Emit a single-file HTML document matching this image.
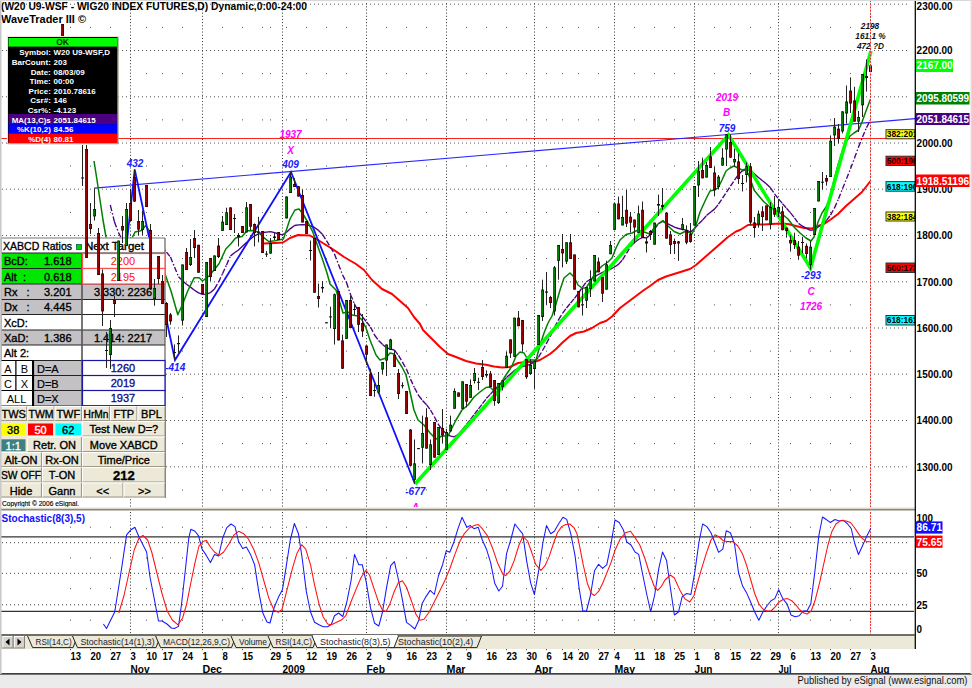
<!DOCTYPE html><html><head><meta charset="utf-8"><title>chart</title><style>html,body{margin:0;padding:0;background:#fff}svg{display:block}</style></head><body><svg width="972" height="688" viewBox="0 0 972 688" font-family="Liberation Sans, sans-serif">
<rect width="972" height="688" fill="#fff"/>
<g id="grid" stroke="#555" stroke-width="1" fill="none">
<line x1="2" x2="908" y1="466.8" y2="466.8" stroke-dasharray="1 3"/>
<line x1="2" x2="908" y1="420.5" y2="420.5" stroke-dasharray="1 3"/>
<line x1="2" x2="908" y1="374.2" y2="374.2" stroke-dasharray="1 3"/>
<line x1="2" x2="908" y1="328.0" y2="328.0" stroke-dasharray="1 3"/>
<line x1="2" x2="908" y1="281.8" y2="281.8" stroke-dasharray="1 3"/>
<line x1="2" x2="908" y1="235.5" y2="235.5" stroke-dasharray="1 3"/>
<line x1="2" x2="908" y1="189.2" y2="189.2" stroke-dasharray="1 3"/>
<line x1="2" x2="908" y1="143.0" y2="143.0" stroke-dasharray="1 3"/>
<line x1="2" x2="908" y1="96.8" y2="96.8" stroke-dasharray="1 3"/>
<line x1="2" x2="908" y1="50.5" y2="50.5" stroke-dasharray="1 3"/>
<line x1="2" x2="908" y1="4.2" y2="4.2" stroke-dasharray="1 3"/>
</g>
<g stroke="#333" stroke-width="1" stroke-dasharray="1 2.16" fill="none">
<line x1="130.5" x2="130.5" y1="0" y2="508"/>
<line x1="130.5" x2="130.5" y1="512" y2="634"/>
<line x1="202.5" x2="202.5" y1="0" y2="508"/>
<line x1="202.5" x2="202.5" y1="512" y2="634"/>
<line x1="282.5" x2="282.5" y1="0" y2="508"/>
<line x1="282.5" x2="282.5" y1="512" y2="634"/>
<line x1="366.5" x2="366.5" y1="0" y2="508"/>
<line x1="366.5" x2="366.5" y1="512" y2="634"/>
<line x1="446.5" x2="446.5" y1="0" y2="508"/>
<line x1="446.5" x2="446.5" y1="512" y2="634"/>
<line x1="534.5" x2="534.5" y1="0" y2="508"/>
<line x1="534.5" x2="534.5" y1="512" y2="634"/>
<line x1="614.5" x2="614.5" y1="0" y2="508"/>
<line x1="614.5" x2="614.5" y1="512" y2="634"/>
<line x1="694.5" x2="694.5" y1="0" y2="508"/>
<line x1="694.5" x2="694.5" y1="512" y2="634"/>
<line x1="778.5" x2="778.5" y1="0" y2="508"/>
<line x1="778.5" x2="778.5" y1="512" y2="634"/>
</g>
<g fill="#555">
<rect x="70.0" y="489.4" width="1" height="1"/>
<rect x="70.0" y="443.1" width="1" height="1"/>
<rect x="70.0" y="396.9" width="1" height="1"/>
<rect x="70.0" y="350.6" width="1" height="1"/>
<rect x="70.0" y="304.4" width="1" height="1"/>
<rect x="70.0" y="258.1" width="1" height="1"/>
<rect x="70.0" y="211.9" width="1" height="1"/>
<rect x="70.0" y="165.6" width="1" height="1"/>
<rect x="70.0" y="119.4" width="1" height="1"/>
<rect x="70.0" y="73.1" width="1" height="1"/>
<rect x="70.0" y="26.9" width="1" height="1"/>
<rect x="70.0" y="526.7" width="1" height="1"/>
<rect x="70.0" y="557.5" width="1" height="1"/>
<rect x="70.0" y="588.2" width="1" height="1"/>
<rect x="70.0" y="619.7" width="1" height="1"/>
<rect x="90.0" y="489.4" width="1" height="1"/>
<rect x="90.0" y="443.1" width="1" height="1"/>
<rect x="90.0" y="396.9" width="1" height="1"/>
<rect x="90.0" y="350.6" width="1" height="1"/>
<rect x="90.0" y="304.4" width="1" height="1"/>
<rect x="90.0" y="258.1" width="1" height="1"/>
<rect x="90.0" y="211.9" width="1" height="1"/>
<rect x="90.0" y="165.6" width="1" height="1"/>
<rect x="90.0" y="119.4" width="1" height="1"/>
<rect x="90.0" y="73.1" width="1" height="1"/>
<rect x="90.0" y="26.9" width="1" height="1"/>
<rect x="90.0" y="526.7" width="1" height="1"/>
<rect x="90.0" y="557.5" width="1" height="1"/>
<rect x="90.0" y="588.2" width="1" height="1"/>
<rect x="90.0" y="619.7" width="1" height="1"/>
<rect x="110.0" y="489.4" width="1" height="1"/>
<rect x="110.0" y="443.1" width="1" height="1"/>
<rect x="110.0" y="396.9" width="1" height="1"/>
<rect x="110.0" y="350.6" width="1" height="1"/>
<rect x="110.0" y="304.4" width="1" height="1"/>
<rect x="110.0" y="258.1" width="1" height="1"/>
<rect x="110.0" y="211.9" width="1" height="1"/>
<rect x="110.0" y="165.6" width="1" height="1"/>
<rect x="110.0" y="119.4" width="1" height="1"/>
<rect x="110.0" y="73.1" width="1" height="1"/>
<rect x="110.0" y="26.9" width="1" height="1"/>
<rect x="110.0" y="526.7" width="1" height="1"/>
<rect x="110.0" y="557.5" width="1" height="1"/>
<rect x="110.0" y="588.2" width="1" height="1"/>
<rect x="110.0" y="619.7" width="1" height="1"/>
<rect x="146.0" y="489.4" width="1" height="1"/>
<rect x="146.0" y="443.1" width="1" height="1"/>
<rect x="146.0" y="396.9" width="1" height="1"/>
<rect x="146.0" y="350.6" width="1" height="1"/>
<rect x="146.0" y="304.4" width="1" height="1"/>
<rect x="146.0" y="258.1" width="1" height="1"/>
<rect x="146.0" y="211.9" width="1" height="1"/>
<rect x="146.0" y="165.6" width="1" height="1"/>
<rect x="146.0" y="119.4" width="1" height="1"/>
<rect x="146.0" y="73.1" width="1" height="1"/>
<rect x="146.0" y="26.9" width="1" height="1"/>
<rect x="146.0" y="526.7" width="1" height="1"/>
<rect x="146.0" y="557.5" width="1" height="1"/>
<rect x="146.0" y="588.2" width="1" height="1"/>
<rect x="146.0" y="619.7" width="1" height="1"/>
<rect x="162.0" y="489.4" width="1" height="1"/>
<rect x="162.0" y="443.1" width="1" height="1"/>
<rect x="162.0" y="396.9" width="1" height="1"/>
<rect x="162.0" y="350.6" width="1" height="1"/>
<rect x="162.0" y="304.4" width="1" height="1"/>
<rect x="162.0" y="258.1" width="1" height="1"/>
<rect x="162.0" y="211.9" width="1" height="1"/>
<rect x="162.0" y="165.6" width="1" height="1"/>
<rect x="162.0" y="119.4" width="1" height="1"/>
<rect x="162.0" y="73.1" width="1" height="1"/>
<rect x="162.0" y="26.9" width="1" height="1"/>
<rect x="162.0" y="526.7" width="1" height="1"/>
<rect x="162.0" y="557.5" width="1" height="1"/>
<rect x="162.0" y="588.2" width="1" height="1"/>
<rect x="162.0" y="619.7" width="1" height="1"/>
<rect x="182.0" y="489.4" width="1" height="1"/>
<rect x="182.0" y="443.1" width="1" height="1"/>
<rect x="182.0" y="396.9" width="1" height="1"/>
<rect x="182.0" y="350.6" width="1" height="1"/>
<rect x="182.0" y="304.4" width="1" height="1"/>
<rect x="182.0" y="258.1" width="1" height="1"/>
<rect x="182.0" y="211.9" width="1" height="1"/>
<rect x="182.0" y="165.6" width="1" height="1"/>
<rect x="182.0" y="119.4" width="1" height="1"/>
<rect x="182.0" y="73.1" width="1" height="1"/>
<rect x="182.0" y="26.9" width="1" height="1"/>
<rect x="182.0" y="526.7" width="1" height="1"/>
<rect x="182.0" y="557.5" width="1" height="1"/>
<rect x="182.0" y="588.2" width="1" height="1"/>
<rect x="182.0" y="619.7" width="1" height="1"/>
<rect x="222.0" y="489.4" width="1" height="1"/>
<rect x="222.0" y="443.1" width="1" height="1"/>
<rect x="222.0" y="396.9" width="1" height="1"/>
<rect x="222.0" y="350.6" width="1" height="1"/>
<rect x="222.0" y="304.4" width="1" height="1"/>
<rect x="222.0" y="258.1" width="1" height="1"/>
<rect x="222.0" y="211.9" width="1" height="1"/>
<rect x="222.0" y="165.6" width="1" height="1"/>
<rect x="222.0" y="119.4" width="1" height="1"/>
<rect x="222.0" y="73.1" width="1" height="1"/>
<rect x="222.0" y="26.9" width="1" height="1"/>
<rect x="222.0" y="526.7" width="1" height="1"/>
<rect x="222.0" y="557.5" width="1" height="1"/>
<rect x="222.0" y="588.2" width="1" height="1"/>
<rect x="222.0" y="619.7" width="1" height="1"/>
<rect x="242.0" y="489.4" width="1" height="1"/>
<rect x="242.0" y="443.1" width="1" height="1"/>
<rect x="242.0" y="396.9" width="1" height="1"/>
<rect x="242.0" y="350.6" width="1" height="1"/>
<rect x="242.0" y="304.4" width="1" height="1"/>
<rect x="242.0" y="258.1" width="1" height="1"/>
<rect x="242.0" y="211.9" width="1" height="1"/>
<rect x="242.0" y="165.6" width="1" height="1"/>
<rect x="242.0" y="119.4" width="1" height="1"/>
<rect x="242.0" y="73.1" width="1" height="1"/>
<rect x="242.0" y="26.9" width="1" height="1"/>
<rect x="242.0" y="526.7" width="1" height="1"/>
<rect x="242.0" y="557.5" width="1" height="1"/>
<rect x="242.0" y="588.2" width="1" height="1"/>
<rect x="242.0" y="619.7" width="1" height="1"/>
<rect x="270.0" y="489.4" width="1" height="1"/>
<rect x="270.0" y="443.1" width="1" height="1"/>
<rect x="270.0" y="396.9" width="1" height="1"/>
<rect x="270.0" y="350.6" width="1" height="1"/>
<rect x="270.0" y="304.4" width="1" height="1"/>
<rect x="270.0" y="258.1" width="1" height="1"/>
<rect x="270.0" y="211.9" width="1" height="1"/>
<rect x="270.0" y="165.6" width="1" height="1"/>
<rect x="270.0" y="119.4" width="1" height="1"/>
<rect x="270.0" y="73.1" width="1" height="1"/>
<rect x="270.0" y="26.9" width="1" height="1"/>
<rect x="270.0" y="526.7" width="1" height="1"/>
<rect x="270.0" y="557.5" width="1" height="1"/>
<rect x="270.0" y="588.2" width="1" height="1"/>
<rect x="270.0" y="619.7" width="1" height="1"/>
<rect x="286.0" y="489.4" width="1" height="1"/>
<rect x="286.0" y="443.1" width="1" height="1"/>
<rect x="286.0" y="396.9" width="1" height="1"/>
<rect x="286.0" y="350.6" width="1" height="1"/>
<rect x="286.0" y="304.4" width="1" height="1"/>
<rect x="286.0" y="258.1" width="1" height="1"/>
<rect x="286.0" y="211.9" width="1" height="1"/>
<rect x="286.0" y="165.6" width="1" height="1"/>
<rect x="286.0" y="119.4" width="1" height="1"/>
<rect x="286.0" y="73.1" width="1" height="1"/>
<rect x="286.0" y="26.9" width="1" height="1"/>
<rect x="286.0" y="526.7" width="1" height="1"/>
<rect x="286.0" y="557.5" width="1" height="1"/>
<rect x="286.0" y="588.2" width="1" height="1"/>
<rect x="286.0" y="619.7" width="1" height="1"/>
<rect x="306.0" y="489.4" width="1" height="1"/>
<rect x="306.0" y="443.1" width="1" height="1"/>
<rect x="306.0" y="396.9" width="1" height="1"/>
<rect x="306.0" y="350.6" width="1" height="1"/>
<rect x="306.0" y="304.4" width="1" height="1"/>
<rect x="306.0" y="258.1" width="1" height="1"/>
<rect x="306.0" y="211.9" width="1" height="1"/>
<rect x="306.0" y="165.6" width="1" height="1"/>
<rect x="306.0" y="119.4" width="1" height="1"/>
<rect x="306.0" y="73.1" width="1" height="1"/>
<rect x="306.0" y="26.9" width="1" height="1"/>
<rect x="306.0" y="526.7" width="1" height="1"/>
<rect x="306.0" y="557.5" width="1" height="1"/>
<rect x="306.0" y="588.2" width="1" height="1"/>
<rect x="306.0" y="619.7" width="1" height="1"/>
<rect x="326.0" y="489.4" width="1" height="1"/>
<rect x="326.0" y="443.1" width="1" height="1"/>
<rect x="326.0" y="396.9" width="1" height="1"/>
<rect x="326.0" y="350.6" width="1" height="1"/>
<rect x="326.0" y="304.4" width="1" height="1"/>
<rect x="326.0" y="258.1" width="1" height="1"/>
<rect x="326.0" y="211.9" width="1" height="1"/>
<rect x="326.0" y="165.6" width="1" height="1"/>
<rect x="326.0" y="119.4" width="1" height="1"/>
<rect x="326.0" y="73.1" width="1" height="1"/>
<rect x="326.0" y="26.9" width="1" height="1"/>
<rect x="326.0" y="526.7" width="1" height="1"/>
<rect x="326.0" y="557.5" width="1" height="1"/>
<rect x="326.0" y="588.2" width="1" height="1"/>
<rect x="326.0" y="619.7" width="1" height="1"/>
<rect x="346.0" y="489.4" width="1" height="1"/>
<rect x="346.0" y="443.1" width="1" height="1"/>
<rect x="346.0" y="396.9" width="1" height="1"/>
<rect x="346.0" y="350.6" width="1" height="1"/>
<rect x="346.0" y="304.4" width="1" height="1"/>
<rect x="346.0" y="258.1" width="1" height="1"/>
<rect x="346.0" y="211.9" width="1" height="1"/>
<rect x="346.0" y="165.6" width="1" height="1"/>
<rect x="346.0" y="119.4" width="1" height="1"/>
<rect x="346.0" y="73.1" width="1" height="1"/>
<rect x="346.0" y="26.9" width="1" height="1"/>
<rect x="346.0" y="526.7" width="1" height="1"/>
<rect x="346.0" y="557.5" width="1" height="1"/>
<rect x="346.0" y="588.2" width="1" height="1"/>
<rect x="346.0" y="619.7" width="1" height="1"/>
<rect x="386.0" y="489.4" width="1" height="1"/>
<rect x="386.0" y="443.1" width="1" height="1"/>
<rect x="386.0" y="396.9" width="1" height="1"/>
<rect x="386.0" y="350.6" width="1" height="1"/>
<rect x="386.0" y="304.4" width="1" height="1"/>
<rect x="386.0" y="258.1" width="1" height="1"/>
<rect x="386.0" y="211.9" width="1" height="1"/>
<rect x="386.0" y="165.6" width="1" height="1"/>
<rect x="386.0" y="119.4" width="1" height="1"/>
<rect x="386.0" y="73.1" width="1" height="1"/>
<rect x="386.0" y="26.9" width="1" height="1"/>
<rect x="386.0" y="526.7" width="1" height="1"/>
<rect x="386.0" y="557.5" width="1" height="1"/>
<rect x="386.0" y="588.2" width="1" height="1"/>
<rect x="386.0" y="619.7" width="1" height="1"/>
<rect x="406.0" y="489.4" width="1" height="1"/>
<rect x="406.0" y="443.1" width="1" height="1"/>
<rect x="406.0" y="396.9" width="1" height="1"/>
<rect x="406.0" y="350.6" width="1" height="1"/>
<rect x="406.0" y="304.4" width="1" height="1"/>
<rect x="406.0" y="258.1" width="1" height="1"/>
<rect x="406.0" y="211.9" width="1" height="1"/>
<rect x="406.0" y="165.6" width="1" height="1"/>
<rect x="406.0" y="119.4" width="1" height="1"/>
<rect x="406.0" y="73.1" width="1" height="1"/>
<rect x="406.0" y="26.9" width="1" height="1"/>
<rect x="406.0" y="526.7" width="1" height="1"/>
<rect x="406.0" y="557.5" width="1" height="1"/>
<rect x="406.0" y="588.2" width="1" height="1"/>
<rect x="406.0" y="619.7" width="1" height="1"/>
<rect x="426.0" y="489.4" width="1" height="1"/>
<rect x="426.0" y="443.1" width="1" height="1"/>
<rect x="426.0" y="396.9" width="1" height="1"/>
<rect x="426.0" y="350.6" width="1" height="1"/>
<rect x="426.0" y="304.4" width="1" height="1"/>
<rect x="426.0" y="258.1" width="1" height="1"/>
<rect x="426.0" y="211.9" width="1" height="1"/>
<rect x="426.0" y="165.6" width="1" height="1"/>
<rect x="426.0" y="119.4" width="1" height="1"/>
<rect x="426.0" y="73.1" width="1" height="1"/>
<rect x="426.0" y="26.9" width="1" height="1"/>
<rect x="426.0" y="526.7" width="1" height="1"/>
<rect x="426.0" y="557.5" width="1" height="1"/>
<rect x="426.0" y="588.2" width="1" height="1"/>
<rect x="426.0" y="619.7" width="1" height="1"/>
<rect x="466.0" y="489.4" width="1" height="1"/>
<rect x="466.0" y="443.1" width="1" height="1"/>
<rect x="466.0" y="396.9" width="1" height="1"/>
<rect x="466.0" y="350.6" width="1" height="1"/>
<rect x="466.0" y="304.4" width="1" height="1"/>
<rect x="466.0" y="258.1" width="1" height="1"/>
<rect x="466.0" y="211.9" width="1" height="1"/>
<rect x="466.0" y="165.6" width="1" height="1"/>
<rect x="466.0" y="119.4" width="1" height="1"/>
<rect x="466.0" y="73.1" width="1" height="1"/>
<rect x="466.0" y="26.9" width="1" height="1"/>
<rect x="466.0" y="526.7" width="1" height="1"/>
<rect x="466.0" y="557.5" width="1" height="1"/>
<rect x="466.0" y="588.2" width="1" height="1"/>
<rect x="466.0" y="619.7" width="1" height="1"/>
<rect x="486.0" y="489.4" width="1" height="1"/>
<rect x="486.0" y="443.1" width="1" height="1"/>
<rect x="486.0" y="396.9" width="1" height="1"/>
<rect x="486.0" y="350.6" width="1" height="1"/>
<rect x="486.0" y="304.4" width="1" height="1"/>
<rect x="486.0" y="258.1" width="1" height="1"/>
<rect x="486.0" y="211.9" width="1" height="1"/>
<rect x="486.0" y="165.6" width="1" height="1"/>
<rect x="486.0" y="119.4" width="1" height="1"/>
<rect x="486.0" y="73.1" width="1" height="1"/>
<rect x="486.0" y="26.9" width="1" height="1"/>
<rect x="486.0" y="526.7" width="1" height="1"/>
<rect x="486.0" y="557.5" width="1" height="1"/>
<rect x="486.0" y="588.2" width="1" height="1"/>
<rect x="486.0" y="619.7" width="1" height="1"/>
<rect x="506.0" y="489.4" width="1" height="1"/>
<rect x="506.0" y="443.1" width="1" height="1"/>
<rect x="506.0" y="396.9" width="1" height="1"/>
<rect x="506.0" y="350.6" width="1" height="1"/>
<rect x="506.0" y="304.4" width="1" height="1"/>
<rect x="506.0" y="258.1" width="1" height="1"/>
<rect x="506.0" y="211.9" width="1" height="1"/>
<rect x="506.0" y="165.6" width="1" height="1"/>
<rect x="506.0" y="119.4" width="1" height="1"/>
<rect x="506.0" y="73.1" width="1" height="1"/>
<rect x="506.0" y="26.9" width="1" height="1"/>
<rect x="506.0" y="526.7" width="1" height="1"/>
<rect x="506.0" y="557.5" width="1" height="1"/>
<rect x="506.0" y="588.2" width="1" height="1"/>
<rect x="506.0" y="619.7" width="1" height="1"/>
<rect x="526.0" y="489.4" width="1" height="1"/>
<rect x="526.0" y="443.1" width="1" height="1"/>
<rect x="526.0" y="396.9" width="1" height="1"/>
<rect x="526.0" y="350.6" width="1" height="1"/>
<rect x="526.0" y="304.4" width="1" height="1"/>
<rect x="526.0" y="258.1" width="1" height="1"/>
<rect x="526.0" y="211.9" width="1" height="1"/>
<rect x="526.0" y="165.6" width="1" height="1"/>
<rect x="526.0" y="119.4" width="1" height="1"/>
<rect x="526.0" y="73.1" width="1" height="1"/>
<rect x="526.0" y="26.9" width="1" height="1"/>
<rect x="526.0" y="526.7" width="1" height="1"/>
<rect x="526.0" y="557.5" width="1" height="1"/>
<rect x="526.0" y="588.2" width="1" height="1"/>
<rect x="526.0" y="619.7" width="1" height="1"/>
<rect x="546.0" y="489.4" width="1" height="1"/>
<rect x="546.0" y="443.1" width="1" height="1"/>
<rect x="546.0" y="396.9" width="1" height="1"/>
<rect x="546.0" y="350.6" width="1" height="1"/>
<rect x="546.0" y="304.4" width="1" height="1"/>
<rect x="546.0" y="258.1" width="1" height="1"/>
<rect x="546.0" y="211.9" width="1" height="1"/>
<rect x="546.0" y="165.6" width="1" height="1"/>
<rect x="546.0" y="119.4" width="1" height="1"/>
<rect x="546.0" y="73.1" width="1" height="1"/>
<rect x="546.0" y="26.9" width="1" height="1"/>
<rect x="546.0" y="526.7" width="1" height="1"/>
<rect x="546.0" y="557.5" width="1" height="1"/>
<rect x="546.0" y="588.2" width="1" height="1"/>
<rect x="546.0" y="619.7" width="1" height="1"/>
<rect x="562.0" y="489.4" width="1" height="1"/>
<rect x="562.0" y="443.1" width="1" height="1"/>
<rect x="562.0" y="396.9" width="1" height="1"/>
<rect x="562.0" y="350.6" width="1" height="1"/>
<rect x="562.0" y="304.4" width="1" height="1"/>
<rect x="562.0" y="258.1" width="1" height="1"/>
<rect x="562.0" y="211.9" width="1" height="1"/>
<rect x="562.0" y="165.6" width="1" height="1"/>
<rect x="562.0" y="119.4" width="1" height="1"/>
<rect x="562.0" y="73.1" width="1" height="1"/>
<rect x="562.0" y="26.9" width="1" height="1"/>
<rect x="562.0" y="526.7" width="1" height="1"/>
<rect x="562.0" y="557.5" width="1" height="1"/>
<rect x="562.0" y="588.2" width="1" height="1"/>
<rect x="562.0" y="619.7" width="1" height="1"/>
<rect x="578.0" y="489.4" width="1" height="1"/>
<rect x="578.0" y="443.1" width="1" height="1"/>
<rect x="578.0" y="396.9" width="1" height="1"/>
<rect x="578.0" y="350.6" width="1" height="1"/>
<rect x="578.0" y="304.4" width="1" height="1"/>
<rect x="578.0" y="258.1" width="1" height="1"/>
<rect x="578.0" y="211.9" width="1" height="1"/>
<rect x="578.0" y="165.6" width="1" height="1"/>
<rect x="578.0" y="119.4" width="1" height="1"/>
<rect x="578.0" y="73.1" width="1" height="1"/>
<rect x="578.0" y="26.9" width="1" height="1"/>
<rect x="578.0" y="526.7" width="1" height="1"/>
<rect x="578.0" y="557.5" width="1" height="1"/>
<rect x="578.0" y="588.2" width="1" height="1"/>
<rect x="578.0" y="619.7" width="1" height="1"/>
<rect x="598.0" y="489.4" width="1" height="1"/>
<rect x="598.0" y="443.1" width="1" height="1"/>
<rect x="598.0" y="396.9" width="1" height="1"/>
<rect x="598.0" y="350.6" width="1" height="1"/>
<rect x="598.0" y="304.4" width="1" height="1"/>
<rect x="598.0" y="258.1" width="1" height="1"/>
<rect x="598.0" y="211.9" width="1" height="1"/>
<rect x="598.0" y="165.6" width="1" height="1"/>
<rect x="598.0" y="119.4" width="1" height="1"/>
<rect x="598.0" y="73.1" width="1" height="1"/>
<rect x="598.0" y="26.9" width="1" height="1"/>
<rect x="598.0" y="526.7" width="1" height="1"/>
<rect x="598.0" y="557.5" width="1" height="1"/>
<rect x="598.0" y="588.2" width="1" height="1"/>
<rect x="598.0" y="619.7" width="1" height="1"/>
<rect x="634.0" y="489.4" width="1" height="1"/>
<rect x="634.0" y="443.1" width="1" height="1"/>
<rect x="634.0" y="396.9" width="1" height="1"/>
<rect x="634.0" y="350.6" width="1" height="1"/>
<rect x="634.0" y="304.4" width="1" height="1"/>
<rect x="634.0" y="258.1" width="1" height="1"/>
<rect x="634.0" y="211.9" width="1" height="1"/>
<rect x="634.0" y="165.6" width="1" height="1"/>
<rect x="634.0" y="119.4" width="1" height="1"/>
<rect x="634.0" y="73.1" width="1" height="1"/>
<rect x="634.0" y="26.9" width="1" height="1"/>
<rect x="634.0" y="526.7" width="1" height="1"/>
<rect x="634.0" y="557.5" width="1" height="1"/>
<rect x="634.0" y="588.2" width="1" height="1"/>
<rect x="634.0" y="619.7" width="1" height="1"/>
<rect x="654.0" y="489.4" width="1" height="1"/>
<rect x="654.0" y="443.1" width="1" height="1"/>
<rect x="654.0" y="396.9" width="1" height="1"/>
<rect x="654.0" y="350.6" width="1" height="1"/>
<rect x="654.0" y="304.4" width="1" height="1"/>
<rect x="654.0" y="258.1" width="1" height="1"/>
<rect x="654.0" y="211.9" width="1" height="1"/>
<rect x="654.0" y="165.6" width="1" height="1"/>
<rect x="654.0" y="119.4" width="1" height="1"/>
<rect x="654.0" y="73.1" width="1" height="1"/>
<rect x="654.0" y="26.9" width="1" height="1"/>
<rect x="654.0" y="526.7" width="1" height="1"/>
<rect x="654.0" y="557.5" width="1" height="1"/>
<rect x="654.0" y="588.2" width="1" height="1"/>
<rect x="654.0" y="619.7" width="1" height="1"/>
<rect x="674.0" y="489.4" width="1" height="1"/>
<rect x="674.0" y="443.1" width="1" height="1"/>
<rect x="674.0" y="396.9" width="1" height="1"/>
<rect x="674.0" y="350.6" width="1" height="1"/>
<rect x="674.0" y="304.4" width="1" height="1"/>
<rect x="674.0" y="258.1" width="1" height="1"/>
<rect x="674.0" y="211.9" width="1" height="1"/>
<rect x="674.0" y="165.6" width="1" height="1"/>
<rect x="674.0" y="119.4" width="1" height="1"/>
<rect x="674.0" y="73.1" width="1" height="1"/>
<rect x="674.0" y="26.9" width="1" height="1"/>
<rect x="674.0" y="526.7" width="1" height="1"/>
<rect x="674.0" y="557.5" width="1" height="1"/>
<rect x="674.0" y="588.2" width="1" height="1"/>
<rect x="674.0" y="619.7" width="1" height="1"/>
<rect x="714.0" y="489.4" width="1" height="1"/>
<rect x="714.0" y="443.1" width="1" height="1"/>
<rect x="714.0" y="396.9" width="1" height="1"/>
<rect x="714.0" y="350.6" width="1" height="1"/>
<rect x="714.0" y="304.4" width="1" height="1"/>
<rect x="714.0" y="258.1" width="1" height="1"/>
<rect x="714.0" y="211.9" width="1" height="1"/>
<rect x="714.0" y="165.6" width="1" height="1"/>
<rect x="714.0" y="119.4" width="1" height="1"/>
<rect x="714.0" y="73.1" width="1" height="1"/>
<rect x="714.0" y="26.9" width="1" height="1"/>
<rect x="714.0" y="526.7" width="1" height="1"/>
<rect x="714.0" y="557.5" width="1" height="1"/>
<rect x="714.0" y="588.2" width="1" height="1"/>
<rect x="714.0" y="619.7" width="1" height="1"/>
<rect x="730.0" y="489.4" width="1" height="1"/>
<rect x="730.0" y="443.1" width="1" height="1"/>
<rect x="730.0" y="396.9" width="1" height="1"/>
<rect x="730.0" y="350.6" width="1" height="1"/>
<rect x="730.0" y="304.4" width="1" height="1"/>
<rect x="730.0" y="258.1" width="1" height="1"/>
<rect x="730.0" y="211.9" width="1" height="1"/>
<rect x="730.0" y="165.6" width="1" height="1"/>
<rect x="730.0" y="119.4" width="1" height="1"/>
<rect x="730.0" y="73.1" width="1" height="1"/>
<rect x="730.0" y="26.9" width="1" height="1"/>
<rect x="730.0" y="526.7" width="1" height="1"/>
<rect x="730.0" y="557.5" width="1" height="1"/>
<rect x="730.0" y="588.2" width="1" height="1"/>
<rect x="730.0" y="619.7" width="1" height="1"/>
<rect x="750.0" y="489.4" width="1" height="1"/>
<rect x="750.0" y="443.1" width="1" height="1"/>
<rect x="750.0" y="396.9" width="1" height="1"/>
<rect x="750.0" y="350.6" width="1" height="1"/>
<rect x="750.0" y="304.4" width="1" height="1"/>
<rect x="750.0" y="258.1" width="1" height="1"/>
<rect x="750.0" y="211.9" width="1" height="1"/>
<rect x="750.0" y="165.6" width="1" height="1"/>
<rect x="750.0" y="119.4" width="1" height="1"/>
<rect x="750.0" y="73.1" width="1" height="1"/>
<rect x="750.0" y="26.9" width="1" height="1"/>
<rect x="750.0" y="526.7" width="1" height="1"/>
<rect x="750.0" y="557.5" width="1" height="1"/>
<rect x="750.0" y="588.2" width="1" height="1"/>
<rect x="750.0" y="619.7" width="1" height="1"/>
<rect x="770.0" y="489.4" width="1" height="1"/>
<rect x="770.0" y="443.1" width="1" height="1"/>
<rect x="770.0" y="396.9" width="1" height="1"/>
<rect x="770.0" y="350.6" width="1" height="1"/>
<rect x="770.0" y="304.4" width="1" height="1"/>
<rect x="770.0" y="258.1" width="1" height="1"/>
<rect x="770.0" y="211.9" width="1" height="1"/>
<rect x="770.0" y="165.6" width="1" height="1"/>
<rect x="770.0" y="119.4" width="1" height="1"/>
<rect x="770.0" y="73.1" width="1" height="1"/>
<rect x="770.0" y="26.9" width="1" height="1"/>
<rect x="770.0" y="526.7" width="1" height="1"/>
<rect x="770.0" y="557.5" width="1" height="1"/>
<rect x="770.0" y="588.2" width="1" height="1"/>
<rect x="770.0" y="619.7" width="1" height="1"/>
<rect x="790.0" y="489.4" width="1" height="1"/>
<rect x="790.0" y="443.1" width="1" height="1"/>
<rect x="790.0" y="396.9" width="1" height="1"/>
<rect x="790.0" y="350.6" width="1" height="1"/>
<rect x="790.0" y="304.4" width="1" height="1"/>
<rect x="790.0" y="258.1" width="1" height="1"/>
<rect x="790.0" y="211.9" width="1" height="1"/>
<rect x="790.0" y="165.6" width="1" height="1"/>
<rect x="790.0" y="119.4" width="1" height="1"/>
<rect x="790.0" y="73.1" width="1" height="1"/>
<rect x="790.0" y="26.9" width="1" height="1"/>
<rect x="790.0" y="526.7" width="1" height="1"/>
<rect x="790.0" y="557.5" width="1" height="1"/>
<rect x="790.0" y="588.2" width="1" height="1"/>
<rect x="790.0" y="619.7" width="1" height="1"/>
<rect x="810.0" y="489.4" width="1" height="1"/>
<rect x="810.0" y="443.1" width="1" height="1"/>
<rect x="810.0" y="396.9" width="1" height="1"/>
<rect x="810.0" y="350.6" width="1" height="1"/>
<rect x="810.0" y="304.4" width="1" height="1"/>
<rect x="810.0" y="258.1" width="1" height="1"/>
<rect x="810.0" y="211.9" width="1" height="1"/>
<rect x="810.0" y="165.6" width="1" height="1"/>
<rect x="810.0" y="119.4" width="1" height="1"/>
<rect x="810.0" y="73.1" width="1" height="1"/>
<rect x="810.0" y="26.9" width="1" height="1"/>
<rect x="810.0" y="526.7" width="1" height="1"/>
<rect x="810.0" y="557.5" width="1" height="1"/>
<rect x="810.0" y="588.2" width="1" height="1"/>
<rect x="810.0" y="619.7" width="1" height="1"/>
<rect x="830.0" y="489.4" width="1" height="1"/>
<rect x="830.0" y="443.1" width="1" height="1"/>
<rect x="830.0" y="396.9" width="1" height="1"/>
<rect x="830.0" y="350.6" width="1" height="1"/>
<rect x="830.0" y="304.4" width="1" height="1"/>
<rect x="830.0" y="258.1" width="1" height="1"/>
<rect x="830.0" y="211.9" width="1" height="1"/>
<rect x="830.0" y="165.6" width="1" height="1"/>
<rect x="830.0" y="119.4" width="1" height="1"/>
<rect x="830.0" y="73.1" width="1" height="1"/>
<rect x="830.0" y="26.9" width="1" height="1"/>
<rect x="830.0" y="526.7" width="1" height="1"/>
<rect x="830.0" y="557.5" width="1" height="1"/>
<rect x="830.0" y="588.2" width="1" height="1"/>
<rect x="830.0" y="619.7" width="1" height="1"/>
<rect x="850.0" y="489.4" width="1" height="1"/>
<rect x="850.0" y="443.1" width="1" height="1"/>
<rect x="850.0" y="396.9" width="1" height="1"/>
<rect x="850.0" y="350.6" width="1" height="1"/>
<rect x="850.0" y="304.4" width="1" height="1"/>
<rect x="850.0" y="258.1" width="1" height="1"/>
<rect x="850.0" y="211.9" width="1" height="1"/>
<rect x="850.0" y="165.6" width="1" height="1"/>
<rect x="850.0" y="119.4" width="1" height="1"/>
<rect x="850.0" y="73.1" width="1" height="1"/>
<rect x="850.0" y="26.9" width="1" height="1"/>
<rect x="850.0" y="526.7" width="1" height="1"/>
<rect x="850.0" y="557.5" width="1" height="1"/>
<rect x="850.0" y="588.2" width="1" height="1"/>
<rect x="850.0" y="619.7" width="1" height="1"/>
<rect x="262.0" y="489.4" width="1" height="1"/>
<rect x="262.0" y="443.1" width="1" height="1"/>
<rect x="262.0" y="396.9" width="1" height="1"/>
<rect x="262.0" y="350.6" width="1" height="1"/>
<rect x="262.0" y="304.4" width="1" height="1"/>
<rect x="262.0" y="258.1" width="1" height="1"/>
<rect x="262.0" y="211.9" width="1" height="1"/>
<rect x="262.0" y="165.6" width="1" height="1"/>
<rect x="262.0" y="119.4" width="1" height="1"/>
<rect x="262.0" y="73.1" width="1" height="1"/>
<rect x="262.0" y="26.9" width="1" height="1"/>
<rect x="262.0" y="526.7" width="1" height="1"/>
<rect x="262.0" y="557.5" width="1" height="1"/>
<rect x="262.0" y="588.2" width="1" height="1"/>
<rect x="262.0" y="619.7" width="1" height="1"/>
</g>
<line x1="0" x2="915" y1="138.5" y2="138.5" stroke="#ff2020" stroke-width="1.2"/>
<line x1="94.2" y1="188.2" x2="915" y2="118.7" stroke="#2828ff" stroke-width="1.2"/>
<polyline points="263.6,243.6 275.0,243.0 283.0,242.5 290.0,238.0 298.0,235.0 310.0,235.5 318.0,240.0 326.0,245.0 334.0,250.0 344.0,257.0 356.0,264.0 364.0,270.0 372.0,280.0 382.0,289.0 392.0,294.0 400.0,301.0 408.0,308.0 414.0,317.0 420.0,324.0 423.0,330.0 430.0,337.0 440.0,347.0 448.0,354.0 456.0,357.0 466.0,361.0 476.0,363.5 486.0,364.7 494.0,366.5 502.0,367.5 510.0,367.0 518.0,363.0 526.0,362.0 534.0,362.0 540.0,360.0 550.0,354.0 556.0,349.0 562.0,343.0 570.0,336.0 576.0,333.0 584.0,331.5 592.0,328.0 600.0,323.0 606.0,321.0 612.0,316.5 620.0,308.0 628.0,302.0 636.0,296.0 644.0,290.0 650.0,286.0 658.0,280.0 666.0,276.5 674.0,274.0 682.0,271.5 690.0,269.0 696.0,265.0 704.0,258.0 712.0,251.0 720.0,244.0 728.0,237.0 736.0,231.5 740.0,230.0 748.0,225.0 756.0,224.5 764.0,224.5 772.0,224.0 780.0,223.5 788.0,224.0 796.0,226.0 804.0,228.0 812.0,228.5 818.0,226.0 824.0,224.0 830.0,220.0 838.0,214.0 846.0,206.0 854.0,199.0 862.0,192.0 870.5,181.0" fill="none" stroke="#ff0000" stroke-width="2" stroke-linejoin="round"/>
<path d="M110.3 205.0L110.5 205.8M110.5 205.8L114.5 222.0M114.5 222.0L118.5 232.6M118.5 232.6L122.5 240.4M122.5 240.4L124.0 244.0" fill="none" stroke="#4b0082" stroke-width="1.35" stroke-dasharray="5.5 2 1.5 2" stroke-linecap="butt"/>
<path d="M160.0 243.0L162.5 246.6M162.5 246.6L166.5 252.1M166.5 252.1L170.5 257.1M170.5 257.1L174.5 267.0M174.5 267.0L178.5 276.7M178.5 276.7L182.5 280.7M182.5 280.7L186.5 284.2M186.5 284.2L190.5 287.1M190.5 287.1L194.5 290.2M194.5 290.2L198.5 292.9M198.5 292.9L202.5 294.4M202.5 294.4L206.5 294.1M206.5 294.1L210.5 292.6M210.5 292.6L214.5 288.9M214.5 288.9L218.5 282.2M218.5 282.2L222.5 273.7M222.5 273.7L226.5 264.9M226.5 264.9L230.5 255.9M230.5 255.9L234.5 252.8M234.5 252.8L238.5 250.0M238.5 250.0L242.5 246.3M242.5 246.3L246.5 242.5M246.5 242.5L250.5 239.1M250.5 239.1L254.5 235.8M254.5 235.8L258.5 233.9M258.5 233.9L262.5 232.5M262.5 232.5L266.5 232.1M266.5 232.1L270.5 231.7M270.5 231.7L274.5 232.6M274.5 232.6L278.5 234.0M278.5 234.0L282.5 234.8M282.5 234.8L286.5 232.3M286.5 232.3L290.5 228.6M290.5 228.6L294.5 225.5M294.5 225.5L298.5 224.8M298.5 224.8L302.5 224.7M302.5 224.7L306.5 224.9M306.5 224.9L310.5 225.9M310.5 225.9L314.5 227.5M314.5 227.5L318.5 230.4M318.5 230.4L322.5 234.4M322.5 234.4L326.5 240.7M326.5 240.7L330.5 247.3M330.5 247.3L334.5 254.0M334.5 254.0L338.5 264.4M338.5 264.4L342.5 274.7M342.5 274.7L346.5 282.5M346.5 282.5L350.5 294.5M350.5 294.5L354.5 304.0M354.5 304.0L358.5 311.7M358.5 311.7L362.5 317.0M362.5 317.0L366.5 321.9M366.5 321.9L370.5 327.0M370.5 327.0L374.5 335.0M374.5 335.0L378.5 340.5M378.5 340.5L382.5 344.4M382.5 344.4L386.5 347.8M386.5 347.8L390.5 349.0M390.5 349.0L394.5 350.2M394.5 350.2L398.5 355.4M398.5 355.4L402.5 362.2M402.5 362.2L406.5 369.2M406.5 369.2L410.5 379.1M410.5 379.1L414.5 387.8M414.5 387.8L418.5 395.4M418.5 395.4L422.5 400.5M422.5 400.5L426.5 404.7M426.5 404.7L430.5 410.0M430.5 410.0L434.5 417.0M434.5 417.0L438.5 424.7M438.5 424.7L442.5 430.0M442.5 430.0L446.5 433.7M446.5 433.7L450.5 436.1M450.5 436.1L454.5 436.8M454.5 436.8L458.5 434.1M458.5 434.1L462.5 429.4M462.5 429.4L466.5 424.4M466.5 424.4L470.5 419.4M470.5 419.4L474.5 414.1M474.5 414.1L478.5 408.9M478.5 408.9L482.5 403.7M482.5 403.7L486.5 398.4M486.5 398.4L490.5 394.1M490.5 394.1L494.5 389.6M494.5 389.6L498.5 385.5M498.5 385.5L502.5 381.5M502.5 381.5L506.5 377.6M506.5 377.6L510.5 373.9M510.5 373.9L514.5 370.4M514.5 370.4L518.5 368.1M518.5 368.1L522.5 366.6M522.5 366.6L526.5 365.4M526.5 365.4L530.5 364.4M530.5 364.4L534.5 361.5M534.5 361.5L538.5 357.2M538.5 357.2L542.5 350.5M542.5 350.5L546.5 343.4M546.5 343.4L550.5 335.9M550.5 335.9L554.5 327.2M554.5 327.2L558.5 319.8M558.5 319.8L562.5 313.3M562.5 313.3L566.5 308.0M566.5 308.0L570.5 303.1M570.5 303.1L574.5 298.3M574.5 298.3L578.5 293.0M578.5 293.0L582.5 287.2M582.5 287.2L586.5 281.7M586.5 281.7L590.5 279.2M590.5 279.2L594.5 276.7M594.5 276.7L598.5 274.5M598.5 274.5L602.5 272.3M602.5 272.3L606.5 270.8M606.5 270.8L610.5 269.2M610.5 269.2L614.5 267.0M614.5 267.0L618.5 264.4M618.5 264.4L622.5 259.8M622.5 259.8L626.5 253.4M626.5 253.4L630.5 246.5M630.5 246.5L634.5 242.5M634.5 242.5L638.5 239.5M638.5 239.5L642.5 237.5M642.5 237.5L646.5 237.9M646.5 237.9L650.5 234.7M650.5 234.7L654.5 229.2M654.5 229.2L658.5 223.7M658.5 223.7L662.5 221.3M662.5 221.3L666.5 223.1M666.5 223.1L670.5 225.2M670.5 225.2L674.5 227.2M674.5 227.2L678.5 228.5M678.5 228.5L682.5 229.4M682.5 229.4L686.5 230.2M686.5 230.2L690.5 232.2M690.5 232.2L694.5 228.6M694.5 228.6L698.5 224.1M698.5 224.1L702.5 220.1M702.5 220.1L706.5 215.6M706.5 215.6L710.5 212.2M710.5 212.2L714.5 209.1M714.5 209.1L718.5 204.2M718.5 204.2L722.5 198.2M722.5 198.2L726.5 192.2M726.5 192.2L730.5 186.2M730.5 186.2L734.5 180.2M734.5 180.2L738.5 174.5M738.5 174.5L742.5 170.8M742.5 170.8L746.5 169.5M746.5 169.5L750.5 170.9M750.5 170.9L754.5 174.1M754.5 174.1L758.5 177.4M758.5 177.4L762.5 180.8M762.5 180.8L766.5 184.1M766.5 184.1L770.5 187.8M770.5 187.8L774.5 193.8M774.5 193.8L778.5 198.9M778.5 198.9L782.5 203.6M782.5 203.6L786.5 208.2M786.5 208.2L790.5 212.9M790.5 212.9L794.5 217.8M794.5 217.8L798.5 223.4M798.5 223.4L802.5 226.2M802.5 226.2L806.5 228.3M806.5 228.3L810.5 230.4M810.5 230.4L814.5 229.6M814.5 229.6L818.5 226.7M818.5 226.7L822.5 224.1M822.5 224.1L826.5 220.4M826.5 220.4L830.5 215.1M830.5 215.1L834.5 207.9M834.5 207.9L838.5 198.8M838.5 198.8L842.5 188.8M842.5 188.8L846.5 178.8M846.5 178.8L850.5 168.8M850.5 168.8L854.5 158.1M854.5 158.1L858.5 147.1M858.5 147.1L862.5 137.1M862.5 137.1L866.5 127.6M866.5 127.6L870.5 120.0" fill="none" stroke="#4b0082" stroke-width="1.35" stroke-dasharray="5.5 2 1.5 2" stroke-linecap="butt"/>
<polyline points="94.0,161.0 97.0,180.0 100.0,200.0 103.0,220.0 106.0,237.0 108.0,250.0" fill="none" stroke="#008000" stroke-width="1.5" stroke-linejoin="round"/>
<polyline points="129.0,250.0 132.5,237.0 135.0,232.0 141.6,230.4 145.7,225.5 149.0,230.4 152.0,245.0" fill="none" stroke="#008000" stroke-width="1.5" stroke-linejoin="round"/>
<polyline points="160.0,262.0 164.6,272.7 171.0,291.0 177.8,314.7 182.7,304.0 187.7,291.0 194.3,277.7 199.2,277.7 202.5,281.0 209.0,276.0 214.0,270.0 219.0,263.7 225.8,249.0 230.7,244.0 235.6,238.0 242.0,236.5 247.0,230.8 253.7,230.5 258.7,232.4 263.6,237.4 268.6,241.5 275.0,240.7 283.4,239.0 286.7,229.0 290.0,219.0 294.9,210.0 299.0,209.0 303.0,214.0 308.0,222.5 313.0,232.4 318.0,247.0 322.9,260.4 327.0,273.0 330.0,284.0 336.0,290.0 340.0,303.0 343.0,313.0 348.0,312.0 352.0,315.0 358.0,316.0 362.0,320.0 366.0,328.0 370.0,340.0 372.0,345.0 376.0,355.0 380.0,360.0 386.0,358.0 390.0,353.0 394.0,354.0 398.0,361.0 402.0,367.0 406.0,375.0 410.0,392.0 414.0,410.0 418.0,420.0 424.0,425.0 430.0,433.0 436.0,439.0 442.0,436.0 448.0,436.0 452.0,428.0 456.0,420.0 462.0,410.0 468.0,405.0 474.0,397.0 480.0,392.0 486.0,387.5 490.0,387.0 494.0,391.0 500.0,385.0 504.0,378.0 508.0,372.0 512.0,366.0 516.0,356.0 520.0,352.0 524.0,353.0 528.0,360.0 532.0,360.0 536.0,360.0 540.0,345.0 544.0,333.0 548.0,323.0 552.0,316.0 556.0,304.0 560.0,290.0 564.0,278.0 570.0,273.0 574.0,277.0 578.0,285.0 582.0,288.0 586.0,288.0 590.0,282.0 596.0,272.0 602.0,266.0 608.0,262.0 612.0,258.0 616.0,248.0 620.0,240.0 626.0,234.5 632.0,233.0 638.0,230.0 644.0,232.0 650.0,234.0 654.0,228.0 658.0,224.0 663.0,220.5 668.0,226.0 674.0,231.5 680.0,234.0 686.0,231.0 692.0,234.0 696.0,225.0 700.0,212.0 706.0,199.0 710.0,191.0 714.0,190.0 718.0,188.0 722.0,180.0 726.0,171.0 730.0,168.0 734.0,166.0 738.0,168.0 742.0,170.0 746.0,169.0 750.0,178.0 754.0,190.0 758.0,195.0 764.0,202.0 770.0,207.0 776.0,211.0 782.0,214.0 788.0,219.0 794.0,227.0 800.0,233.0 806.0,238.0 811.0,241.0 814.0,237.0 818.0,222.0 822.0,213.0 826.0,207.0 830.0,198.0 834.0,180.0 838.0,165.0 842.0,152.0 846.0,142.0 850.0,136.0 854.0,133.0 858.6,130.0 862.0,122.0 866.0,111.0 870.5,99.0" fill="none" stroke="#008000" stroke-width="1.5" stroke-linejoin="round"/>
<polyline points="126.5,246 134.7,169.5 175,360 291,172 415,484" fill="none" stroke="#1010ff" stroke-width="1.8" stroke-linejoin="miter"/>
<polyline points="415,484 728.5,135 810.5,268 871,51" fill="none" stroke="#00ff00" stroke-width="3.6" stroke-linejoin="miter"/>
<g id="panel">
<rect x="0" y="237.5" width="165.5" height="260.5" fill="#fff"/>
<rect x="2" y="253" width="80" height="31" fill="#00e800"/>
<rect x="2" y="284" width="163" height="15.5" fill="#c3c1c4"/>
<rect x="2" y="299.5" width="80" height="15" fill="#c3c1c4"/>
<rect x="2" y="330" width="163" height="15" fill="#c3c1c4"/>
<rect x="34" y="360.5" width="48" height="45.5" fill="#c3c1c4"/>
<line x1="0" x2="165" y1="253.0" y2="253.0" stroke="#222" stroke-width="1"/>
<line x1="0" x2="165" y1="268.5" y2="268.5" stroke="#222" stroke-width="1"/>
<line x1="0" x2="165" y1="284.0" y2="284.0" stroke="#222" stroke-width="1"/>
<line x1="0" x2="165" y1="299.5" y2="299.5" stroke="#222" stroke-width="1"/>
<line x1="0" x2="165" y1="314.5" y2="314.5" stroke="#222" stroke-width="1"/>
<line x1="0" x2="165" y1="330.0" y2="330.0" stroke="#222" stroke-width="1"/>
<line x1="0" x2="165" y1="345.0" y2="345.0" stroke="#222" stroke-width="1"/>
<line x1="0" x2="165" y1="360.5" y2="360.5" stroke="#222" stroke-width="1"/>
<line x1="0" x2="165" y1="375.5" y2="375.5" stroke="#222" stroke-width="1"/>
<line x1="0" x2="165" y1="390.5" y2="390.5" stroke="#222" stroke-width="1"/>
<line x1="0" x2="165" y1="406.0" y2="406.0" stroke="#222" stroke-width="1"/>
<line x1="0" x2="165" y1="238" y2="238" stroke="#777" stroke-width="1"/>
<line x1="165" x2="165" y1="238" y2="406" stroke="#444" stroke-width="1"/>
<line x1="1" x2="1" y1="238" y2="406" stroke="#888" stroke-width="1.5"/>
<line x1="82" x2="82" y1="253" y2="406" stroke="#555" stroke-width="1.6"/>
<rect x="82.5" y="253.5" width="82.5" height="15" fill="#fff" stroke="#ff5050" stroke-width="1.2"/>
<rect x="82.5" y="268.5" width="82.5" height="15.5" fill="#fff" stroke="#ff5050" stroke-width="1.2"/>
<rect x="82.5" y="360.5" width="82.5" height="15.2" fill="#fff" stroke="#1818a0" stroke-width="1.2"/>
<rect x="82.5" y="375.5" width="82.5" height="15.2" fill="#fff" stroke="#1818a0" stroke-width="1.2"/>
<rect x="82.5" y="390.5" width="82.5" height="15.2" fill="#fff" stroke="#1818a0" stroke-width="1.2"/>
<rect x="0.5" y="360.5" width="15.5" height="15" fill="#fff" stroke="#000" stroke-width="1"/>
<rect x="16" y="360.5" width="16.5" height="15" fill="#fff" stroke="#000" stroke-width="1"/>
<rect x="0.5" y="375.5" width="15.5" height="15" fill="#fff" stroke="#000" stroke-width="1"/>
<rect x="16" y="375.5" width="16.5" height="15" fill="#fff" stroke="#000" stroke-width="1"/>
<rect x="0.5" y="390.5" width="32" height="15.5" fill="#fff" stroke="#000" stroke-width="1"/>
<line x1="33.2" x2="33.2" y1="360" y2="406" stroke="#000" stroke-width="1.8"/>
<text x="3.0" y="250.0" font-size="11" fill="#000" text-anchor="start" font-weight="normal" font-style="normal" textLength="69.0" lengthAdjust="spacingAndGlyphs" stroke="#000" stroke-width="0.35">XABCD Ratios</text>
<rect x="76.5" y="244.5" width="5" height="5" fill="#00d000" stroke="#064" stroke-width="0.8"/>
<text x="85.0" y="250.0" font-size="11" fill="#000" text-anchor="start" font-weight="normal" font-style="normal" textLength="59.0" lengthAdjust="spacingAndGlyphs" stroke="#000" stroke-width="0.35">Next Target</text>
<text x="4" y="265.0" font-size="11" xml:space="preserve" stroke="#000" stroke-width="0.35">BcD:</text>
<text x="44.0" y="265.0" font-size="11" fill="#000" text-anchor="start" font-weight="normal" font-style="normal" stroke="#000" stroke-width="0.35">1.618</text>
<text x="4" y="280.5" font-size="11" xml:space="preserve" stroke="#000" stroke-width="0.35">Alt  :</text>
<text x="44.0" y="280.5" font-size="11" fill="#000" text-anchor="start" font-weight="normal" font-style="normal" stroke="#000" stroke-width="0.35">0.618</text>
<text x="4" y="296.0" font-size="11" xml:space="preserve" stroke="#000" stroke-width="0.35">Rx   :</text>
<text x="44.0" y="296.0" font-size="11" fill="#000" text-anchor="start" font-weight="normal" font-style="normal" stroke="#000" stroke-width="0.35">3.201</text>
<text x="4" y="311.0" font-size="11" xml:space="preserve" stroke="#000" stroke-width="0.35">Dx   :</text>
<text x="44.0" y="311.0" font-size="11" fill="#000" text-anchor="start" font-weight="normal" font-style="normal" stroke="#000" stroke-width="0.35">4.445</text>
<text x="4" y="326.5" font-size="11" xml:space="preserve" stroke="#000" stroke-width="0.35">XcD:</text>
<text x="4" y="341.5" font-size="11" xml:space="preserve" stroke="#000" stroke-width="0.35">XaD:</text>
<text x="44.0" y="341.5" font-size="11" fill="#000" text-anchor="start" font-weight="normal" font-style="normal" stroke="#000" stroke-width="0.35">1.386</text>
<text x="4" y="357.0" font-size="11" xml:space="preserve" stroke="#000" stroke-width="0.35">Alt 2:</text>
<text x="123.0" y="265.0" font-size="11" fill="#ff1010" text-anchor="middle" font-weight="normal" font-style="normal" >2200</text>
<text x="123.0" y="280.5" font-size="11" fill="#ff1010" text-anchor="middle" font-weight="normal" font-style="normal" >2195</text>
<text x="123.0" y="296.0" font-size="11" fill="#000" text-anchor="middle" font-weight="normal" font-style="normal" stroke="#000" stroke-width="0.35">3.330: 2236</text>
<text x="123.0" y="341.5" font-size="11" fill="#000" text-anchor="middle" font-weight="normal" font-style="normal" stroke="#000" stroke-width="0.35">1.414: 2217</text>
<text x="123.0" y="372.0" font-size="11" fill="#10108a" text-anchor="middle" font-weight="normal" font-style="normal" stroke="#10108a" stroke-width="0.35">1260</text>
<text x="123.0" y="387.0" font-size="11" fill="#10108a" text-anchor="middle" font-weight="normal" font-style="normal" stroke="#10108a" stroke-width="0.35">2019</text>
<text x="123.0" y="402.3" font-size="11" fill="#10108a" text-anchor="middle" font-weight="normal" font-style="normal" stroke="#10108a" stroke-width="0.35">1937</text>
<text x="8.0" y="372.5" font-size="11" fill="#000" text-anchor="middle" font-weight="normal" font-style="normal" >A</text>
<text x="24.3" y="372.5" font-size="11" fill="#000" text-anchor="middle" font-weight="normal" font-style="normal" >B</text>
<text x="8.0" y="387.5" font-size="11" fill="#000" text-anchor="middle" font-weight="normal" font-style="normal" >C</text>
<text x="24.3" y="387.5" font-size="11" fill="#000" text-anchor="middle" font-weight="normal" font-style="normal" >X</text>
<text x="16.5" y="403.0" font-size="11" fill="#000" text-anchor="middle" font-weight="normal" font-style="normal" >ALL</text>
<text x="37.0" y="372.5" font-size="11" fill="#000" text-anchor="start" font-weight="normal" font-style="normal" stroke="#000" stroke-width="0.2">D=A</text>
<text x="37.0" y="387.5" font-size="11" fill="#000" text-anchor="start" font-weight="normal" font-style="normal" stroke="#000" stroke-width="0.2">D=B</text>
<text x="37.0" y="403.0" font-size="11" fill="#000" text-anchor="start" font-weight="normal" font-style="normal" stroke="#000" stroke-width="0.2">D=X</text>
<rect x="0" y="406" width="165.5" height="92" fill="#ece9d8"/>
<rect x="0.0" y="406.0" width="27.3" height="15.0" fill="#ece9d8"/>
<path d="M0.5 420.5V406.5H26.8" fill="none" stroke="#fff" stroke-width="1"/>
<path d="M0.5 420.5H26.8V406.5" fill="none" stroke="#9d9a8c" stroke-width="1.2"/>
<text x="13.7" y="418.2" font-size="11" fill="#000" text-anchor="middle" font-weight="normal" font-style="normal" stroke="#000" stroke-width="0.35">TWS</text>
<rect x="27.3" y="406.0" width="27.3" height="15.0" fill="#ece9d8"/>
<path d="M27.8 420.5V406.5H54.1" fill="none" stroke="#fff" stroke-width="1"/>
<path d="M27.8 420.5H54.1V406.5" fill="none" stroke="#9d9a8c" stroke-width="1.2"/>
<text x="41.0" y="418.2" font-size="11" fill="#000" text-anchor="middle" font-weight="normal" font-style="normal" textLength="25.0" lengthAdjust="spacingAndGlyphs" stroke="#000" stroke-width="0.35">TWM</text>
<rect x="54.6" y="406.0" width="27.4" height="15.0" fill="#ece9d8"/>
<path d="M55.1 420.5V406.5H81.5" fill="none" stroke="#fff" stroke-width="1"/>
<path d="M55.1 420.5H81.5V406.5" fill="none" stroke="#9d9a8c" stroke-width="1.2"/>
<text x="68.3" y="418.2" font-size="11" fill="#000" text-anchor="middle" font-weight="normal" font-style="normal" stroke="#000" stroke-width="0.35">TWF</text>
<rect x="82.0" y="406.0" width="28.0" height="15.0" fill="#ece9d8"/>
<path d="M82.5 420.5V406.5H109.5" fill="none" stroke="#fff" stroke-width="1"/>
<path d="M82.5 420.5H109.5V406.5" fill="none" stroke="#9d9a8c" stroke-width="1.2"/>
<text x="96.0" y="418.2" font-size="11" fill="#000" text-anchor="middle" font-weight="normal" font-style="normal" textLength="25.0" lengthAdjust="spacingAndGlyphs" stroke="#000" stroke-width="0.35">HrMn</text>
<rect x="110.0" y="406.0" width="27.5" height="15.0" fill="#ece9d8"/>
<path d="M110.5 420.5V406.5H137.0" fill="none" stroke="#fff" stroke-width="1"/>
<path d="M110.5 420.5H137.0V406.5" fill="none" stroke="#9d9a8c" stroke-width="1.2"/>
<text x="123.8" y="418.2" font-size="11" fill="#000" text-anchor="middle" font-weight="normal" font-style="normal" stroke="#000" stroke-width="0.35">FTP</text>
<rect x="137.5" y="406.0" width="28.0" height="15.0" fill="#ece9d8"/>
<path d="M138.0 420.5V406.5H165.0" fill="none" stroke="#fff" stroke-width="1"/>
<path d="M138.0 420.5H165.0V406.5" fill="none" stroke="#9d9a8c" stroke-width="1.2"/>
<text x="151.5" y="418.2" font-size="11" fill="#000" text-anchor="middle" font-weight="normal" font-style="normal" stroke="#000" stroke-width="0.35">BPL</text>
<rect x="1.0" y="423.5" width="24.5" height="11.8" fill="#ffff00"/>
<text x="13.2" y="434.1" font-size="11" fill="#000" text-anchor="middle" font-weight="normal" font-style="normal" stroke="#000" stroke-width="0.35">38</text>
<rect x="28.0" y="423.5" width="25.0" height="11.8" fill="#ff0000"/>
<text x="40.5" y="434.1" font-size="11" fill="#fff" text-anchor="middle" font-weight="normal" font-style="normal" stroke="#fff" stroke-width="0.35">50</text>
<rect x="55.5" y="423.5" width="25.5" height="11.8" fill="#00ffff"/>
<text x="68.2" y="434.1" font-size="11" fill="#000" text-anchor="middle" font-weight="normal" font-style="normal" stroke="#000" stroke-width="0.35">62</text>
<rect x="82.0" y="421.0" width="83.5" height="15.5" fill="#ece9d8"/>
<path d="M82.5 436.0V421.5H165.0" fill="none" stroke="#fff" stroke-width="1"/>
<path d="M82.5 436.0H165.0V421.5" fill="none" stroke="#9d9a8c" stroke-width="1.2"/>
<text x="123.8" y="433.4" font-size="11" fill="#000" text-anchor="middle" font-weight="normal" font-style="normal" stroke="#000" stroke-width="0.35">Test New D=?</text>
<rect x="1.0" y="439.3" width="24.5" height="12.0" fill="#408080"/>
<text x="13.2" y="450.0" font-size="11" fill="#fff" text-anchor="middle" font-weight="normal" font-style="normal" stroke="#fff" stroke-width="0.35">1:1</text>
<rect x="27.0" y="436.5" width="55.0" height="15.5" fill="#ece9d8"/>
<path d="M27.5 451.5V437.0H81.5" fill="none" stroke="#fff" stroke-width="1"/>
<path d="M27.5 451.5H81.5V437.0" fill="none" stroke="#9d9a8c" stroke-width="1.2"/>
<text x="54.5" y="448.9" font-size="11" fill="#000" text-anchor="middle" font-weight="normal" font-style="normal" stroke="#000" stroke-width="0.35">Retr. ON</text>
<rect x="82.0" y="436.5" width="83.5" height="15.5" fill="#ece9d8"/>
<path d="M82.5 451.5V437.0H165.0" fill="none" stroke="#fff" stroke-width="1"/>
<path d="M82.5 451.5H165.0V437.0" fill="none" stroke="#9d9a8c" stroke-width="1.2"/>
<text x="123.8" y="448.9" font-size="11" fill="#000" text-anchor="middle" font-weight="normal" font-style="normal" stroke="#000" stroke-width="0.35">Move XABCD</text>
<rect x="0.0" y="452.0" width="42.0" height="15.0" fill="#ece9d8"/>
<path d="M0.5 466.5V452.5H41.5" fill="none" stroke="#fff" stroke-width="1"/>
<path d="M0.5 466.5H41.5V452.5" fill="none" stroke="#9d9a8c" stroke-width="1.2"/>
<text x="21.0" y="464.2" font-size="11" fill="#000" text-anchor="middle" font-weight="normal" font-style="normal" stroke="#000" stroke-width="0.35">Alt-ON</text>
<rect x="42.0" y="452.0" width="40.0" height="15.0" fill="#ece9d8"/>
<path d="M42.5 466.5V452.5H81.5" fill="none" stroke="#fff" stroke-width="1"/>
<path d="M42.5 466.5H81.5V452.5" fill="none" stroke="#9d9a8c" stroke-width="1.2"/>
<text x="62.0" y="464.2" font-size="11" fill="#000" text-anchor="middle" font-weight="normal" font-style="normal" stroke="#000" stroke-width="0.35">Rx-ON</text>
<rect x="82.0" y="452.0" width="83.5" height="15.0" fill="#ece9d8"/>
<path d="M82.5 466.5V452.5H165.0" fill="none" stroke="#fff" stroke-width="1"/>
<path d="M82.5 466.5H165.0V452.5" fill="none" stroke="#9d9a8c" stroke-width="1.2"/>
<text x="123.8" y="464.2" font-size="11" fill="#000" text-anchor="middle" font-weight="normal" font-style="normal" stroke="#000" stroke-width="0.35">Time/Price</text>
<rect x="0.0" y="467.0" width="42.0" height="15.5" fill="#ece9d8"/>
<path d="M0.5 482.0V467.5H41.5" fill="none" stroke="#fff" stroke-width="1"/>
<path d="M0.5 482.0H41.5V467.5" fill="none" stroke="#9d9a8c" stroke-width="1.2"/>
<text x="21.0" y="479.4" font-size="11" fill="#000" text-anchor="middle" font-weight="normal" font-style="normal" textLength="40.0" lengthAdjust="spacingAndGlyphs" stroke="#000" stroke-width="0.35">SW OFF</text>
<rect x="42.0" y="467.0" width="40.0" height="15.5" fill="#ece9d8"/>
<path d="M42.5 482.0V467.5H81.5" fill="none" stroke="#fff" stroke-width="1"/>
<path d="M42.5 482.0H81.5V467.5" fill="none" stroke="#9d9a8c" stroke-width="1.2"/>
<text x="62.0" y="479.4" font-size="11" fill="#000" text-anchor="middle" font-weight="normal" font-style="normal" stroke="#000" stroke-width="0.35">T-ON</text>
<rect x="82.0" y="467.0" width="83.5" height="15.5" fill="#ece9d8"/>
<path d="M82.5 482.0V467.5H165.0" fill="none" stroke="#fff" stroke-width="1"/>
<path d="M82.5 482.0H165.0V467.5" fill="none" stroke="#9d9a8c" stroke-width="1.2"/>
<text x="123.8" y="480.1" font-size="13" fill="#000" text-anchor="middle" font-weight="bold" font-style="normal" stroke="#000" stroke-width="0.35">212</text>
<rect x="0.0" y="482.5" width="42.0" height="15.0" fill="#ece9d8"/>
<path d="M0.5 497.0V483.0H41.5" fill="none" stroke="#fff" stroke-width="1"/>
<path d="M0.5 497.0H41.5V483.0" fill="none" stroke="#9d9a8c" stroke-width="1.2"/>
<text x="21.0" y="494.7" font-size="11" fill="#000" text-anchor="middle" font-weight="normal" font-style="normal" stroke="#000" stroke-width="0.35">Hide</text>
<rect x="42.0" y="482.5" width="40.0" height="15.0" fill="#ece9d8"/>
<path d="M42.5 497.0V483.0H81.5" fill="none" stroke="#fff" stroke-width="1"/>
<path d="M42.5 497.0H81.5V483.0" fill="none" stroke="#9d9a8c" stroke-width="1.2"/>
<text x="62.0" y="494.7" font-size="11" fill="#000" text-anchor="middle" font-weight="normal" font-style="normal" stroke="#000" stroke-width="0.35">Gann</text>
<rect x="82.0" y="482.5" width="41.5" height="15.0" fill="#ece9d8"/>
<path d="M82.5 497.0V483.0H123.0" fill="none" stroke="#fff" stroke-width="1"/>
<path d="M82.5 497.0H123.0V483.0" fill="none" stroke="#9d9a8c" stroke-width="1.2"/>
<text x="102.8" y="494.7" font-size="11" fill="#000" text-anchor="middle" font-weight="normal" font-style="normal" stroke="#000" stroke-width="0.35">&lt;&lt;</text>
<rect x="123.5" y="482.5" width="42.0" height="15.0" fill="#ece9d8"/>
<path d="M124.0 497.0V483.0H165.0" fill="none" stroke="#fff" stroke-width="1"/>
<path d="M124.0 497.0H165.0V483.0" fill="none" stroke="#9d9a8c" stroke-width="1.2"/>
<text x="144.5" y="494.7" font-size="11" fill="#000" text-anchor="middle" font-weight="normal" font-style="normal" stroke="#000" stroke-width="0.35">&gt;&gt;</text>
<line x1="165.5" x2="165.5" y1="406" y2="498" stroke="#8a877a" stroke-width="1"/>
<rect x="0" y="498" width="82" height="10" fill="#fff"/>
<text x="2.0" y="506.0" font-size="7" fill="#000" text-anchor="start" font-weight="normal" font-style="normal" textLength="77.0" lengthAdjust="spacingAndGlyphs" stroke="#000" stroke-width="0.15">Copyright © 2006 eSignal.</text>
</g>
<g id="candles">
<rect x="62.0" y="24.0" width="1" height="36.0" fill="#222"/>
<rect x="61.1" y="24.0" width="2.8" height="36.0" fill="#000"/>
<rect x="61.3" y="24.7" width="1.5" height="34.6" fill="#c00000"/>
<rect x="82.0" y="145.0" width="1" height="41.0" fill="#222"/>
<rect x="81.0" y="177.5" width="3" height="1.0" fill="#111"/>
<rect x="86.0" y="145.0" width="1" height="113.0" fill="#222"/>
<rect x="85.1" y="149.0" width="2.8" height="109.0" fill="#000"/>
<rect x="85.3" y="149.7" width="1.5" height="107.6" fill="#c00000"/>
<rect x="90.0" y="203.0" width="1" height="31.0" fill="#222"/>
<rect x="89.1" y="224.0" width="2.8" height="5.0" fill="#000"/>
<rect x="89.3" y="224.7" width="1.5" height="3.6" fill="#c00000"/>
<rect x="94.0" y="188.4" width="1" height="32.1" fill="#222"/>
<rect x="93.1" y="209.0" width="2.8" height="7.4" fill="#000"/>
<rect x="93.3" y="209.7" width="1.5" height="6.0" fill="#00a000"/>
<rect x="98.0" y="228.0" width="1" height="47.0" fill="#222"/>
<rect x="97.1" y="233.0" width="2.8" height="42.0" fill="#000"/>
<rect x="97.3" y="233.7" width="1.5" height="40.6" fill="#c00000"/>
<rect x="102.0" y="269.4" width="1" height="56.6" fill="#222"/>
<rect x="101.1" y="273.5" width="2.8" height="37.9" fill="#000"/>
<rect x="101.3" y="274.2" width="1.5" height="36.5" fill="#c00000"/>
<rect x="106.0" y="332.0" width="1" height="36.0" fill="#222"/>
<rect x="105.0" y="350.0" width="3" height="1.0" fill="#111"/>
<rect x="110.0" y="320.0" width="1" height="49.0" fill="#222"/>
<rect x="109.1" y="328.0" width="2.8" height="27.0" fill="#000"/>
<rect x="109.3" y="328.7" width="1.5" height="25.6" fill="#00a000"/>
<rect x="114.0" y="296.0" width="1" height="21.0" fill="#222"/>
<rect x="113.1" y="300.0" width="2.8" height="4.0" fill="#000"/>
<rect x="113.3" y="300.7" width="1.5" height="2.6" fill="#c00000"/>
<rect x="118.0" y="240.6" width="1" height="40.4" fill="#222"/>
<rect x="117.1" y="240.6" width="2.8" height="40.4" fill="#000"/>
<rect x="117.3" y="241.3" width="1.5" height="39.0" fill="#00a000"/>
<rect x="122.0" y="216.0" width="1" height="27.0" fill="#222"/>
<rect x="121.1" y="226.0" width="2.8" height="4.5" fill="#000"/>
<rect x="121.3" y="226.7" width="1.5" height="3.1" fill="#c00000"/>
<rect x="126.0" y="203.0" width="1" height="43.0" fill="#222"/>
<rect x="125.1" y="209.0" width="2.8" height="37.0" fill="#000"/>
<rect x="125.3" y="209.7" width="1.5" height="35.6" fill="#00a000"/>
<rect x="130.0" y="189.0" width="1" height="32.0" fill="#222"/>
<rect x="129.1" y="203.0" width="2.8" height="18.0" fill="#000"/>
<rect x="129.3" y="203.7" width="1.5" height="16.6" fill="#c00000"/>
<rect x="134.0" y="169.5" width="1" height="32.1" fill="#222"/>
<rect x="133.1" y="177.0" width="2.8" height="24.6" fill="#000"/>
<rect x="133.3" y="177.7" width="1.5" height="23.2" fill="#c00000"/>
<rect x="138.0" y="210.0" width="1" height="25.0" fill="#222"/>
<rect x="137.1" y="221.0" width="2.8" height="8.6" fill="#000"/>
<rect x="137.3" y="221.7" width="1.5" height="7.2" fill="#c00000"/>
<rect x="142.0" y="210.6" width="1" height="24.4" fill="#222"/>
<rect x="141.1" y="221.0" width="2.8" height="9.0" fill="#000"/>
<rect x="141.3" y="221.7" width="1.5" height="7.6" fill="#00a000"/>
<rect x="146.0" y="185.0" width="1" height="22.0" fill="#222"/>
<rect x="145.1" y="185.0" width="2.8" height="22.0" fill="#000"/>
<rect x="145.3" y="185.7" width="1.5" height="20.6" fill="#c00000"/>
<rect x="150.0" y="224.0" width="1" height="65.0" fill="#222"/>
<rect x="149.1" y="230.0" width="2.8" height="59.0" fill="#000"/>
<rect x="149.3" y="230.7" width="1.5" height="57.6" fill="#c00000"/>
<rect x="154.0" y="279.0" width="1" height="26.7" fill="#222"/>
<rect x="153.1" y="288.0" width="2.8" height="11.0" fill="#000"/>
<rect x="153.3" y="288.7" width="1.5" height="9.6" fill="#00a000"/>
<rect x="158.0" y="256.0" width="1" height="28.0" fill="#222"/>
<rect x="157.1" y="256.0" width="2.8" height="23.0" fill="#000"/>
<rect x="157.3" y="256.7" width="1.5" height="21.6" fill="#c00000"/>
<rect x="162.0" y="275.0" width="1" height="29.0" fill="#222"/>
<rect x="161.1" y="281.0" width="2.8" height="23.0" fill="#000"/>
<rect x="161.3" y="281.7" width="1.5" height="21.6" fill="#c00000"/>
<rect x="166.0" y="302.0" width="1" height="35.0" fill="#222"/>
<rect x="165.1" y="303.0" width="2.8" height="22.0" fill="#000"/>
<rect x="165.3" y="303.7" width="1.5" height="20.6" fill="#c00000"/>
<rect x="170.0" y="313.0" width="1" height="11.7" fill="#222"/>
<rect x="169.1" y="314.5" width="2.8" height="6.9" fill="#000"/>
<rect x="169.3" y="315.2" width="1.5" height="5.5" fill="#c00000"/>
<rect x="174.0" y="344.4" width="1" height="15.6" fill="#222"/>
<rect x="173.0" y="352.0" width="3" height="1.0" fill="#111"/>
<rect x="178.0" y="335.4" width="1" height="17.3" fill="#222"/>
<rect x="177.0" y="343.0" width="3" height="1.2" fill="#111"/>
<rect x="182.0" y="264.5" width="1" height="61.0" fill="#222"/>
<rect x="181.1" y="264.5" width="2.8" height="56.1" fill="#000"/>
<rect x="181.3" y="265.2" width="1.5" height="54.7" fill="#00a000"/>
<rect x="186.0" y="248.0" width="1" height="22.0" fill="#222"/>
<rect x="185.1" y="252.0" width="2.8" height="18.0" fill="#000"/>
<rect x="185.3" y="252.7" width="1.5" height="16.6" fill="#c00000"/>
<rect x="190.0" y="239.0" width="1" height="27.0" fill="#222"/>
<rect x="189.1" y="257.0" width="2.8" height="8.0" fill="#000"/>
<rect x="189.3" y="257.7" width="1.5" height="6.6" fill="#00a000"/>
<rect x="194.0" y="230.0" width="1" height="28.0" fill="#222"/>
<rect x="193.1" y="238.0" width="2.8" height="10.0" fill="#000"/>
<rect x="193.3" y="238.7" width="1.5" height="8.6" fill="#c00000"/>
<rect x="198.0" y="244.8" width="1" height="27.9" fill="#222"/>
<rect x="197.1" y="244.8" width="2.8" height="27.9" fill="#000"/>
<rect x="197.3" y="245.4" width="1.5" height="26.5" fill="#c00000"/>
<rect x="202.0" y="284.0" width="1" height="10.0" fill="#222"/>
<rect x="201.1" y="284.0" width="2.8" height="10.0" fill="#000"/>
<rect x="201.3" y="284.7" width="1.5" height="8.6" fill="#c00000"/>
<rect x="206.0" y="262.0" width="1" height="55.0" fill="#222"/>
<rect x="205.1" y="262.0" width="2.8" height="55.0" fill="#000"/>
<rect x="205.3" y="262.7" width="1.5" height="53.6" fill="#00a000"/>
<rect x="210.0" y="258.0" width="1" height="23.0" fill="#222"/>
<rect x="209.1" y="258.0" width="2.8" height="19.0" fill="#000"/>
<rect x="209.3" y="258.7" width="1.5" height="17.6" fill="#c00000"/>
<rect x="214.0" y="255.5" width="1" height="15.5" fill="#222"/>
<rect x="213.1" y="255.5" width="2.8" height="15.5" fill="#000"/>
<rect x="213.3" y="256.2" width="1.5" height="14.1" fill="#00a000"/>
<rect x="218.0" y="238.0" width="1" height="20.0" fill="#222"/>
<rect x="217.1" y="245.6" width="2.8" height="11.4" fill="#000"/>
<rect x="217.3" y="246.3" width="1.5" height="10.0" fill="#c00000"/>
<rect x="222.0" y="216.0" width="1" height="14.8" fill="#222"/>
<rect x="221.1" y="221.7" width="2.8" height="9.1" fill="#000"/>
<rect x="221.3" y="222.4" width="1.5" height="7.7" fill="#00a000"/>
<rect x="226.0" y="207.7" width="1" height="17.3" fill="#222"/>
<rect x="225.1" y="212.3" width="2.8" height="12.7" fill="#000"/>
<rect x="225.3" y="213.0" width="1.5" height="11.3" fill="#00a000"/>
<rect x="230.0" y="207.4" width="1" height="22.6" fill="#222"/>
<rect x="229.1" y="207.4" width="2.8" height="22.6" fill="#000"/>
<rect x="229.3" y="208.1" width="1.5" height="21.2" fill="#c00000"/>
<rect x="234.0" y="214.0" width="1" height="19.0" fill="#222"/>
<rect x="233.0" y="218.0" width="3" height="1.0" fill="#111"/>
<rect x="238.0" y="233.0" width="1" height="13.4" fill="#222"/>
<rect x="237.0" y="235.0" width="3" height="2.0" fill="#111"/>
<rect x="242.0" y="226.0" width="1" height="7.0" fill="#222"/>
<rect x="241.1" y="226.0" width="2.8" height="7.0" fill="#000"/>
<rect x="241.3" y="226.7" width="1.5" height="5.6" fill="#c00000"/>
<rect x="246.0" y="202.0" width="1" height="30.4" fill="#222"/>
<rect x="245.1" y="207.4" width="2.8" height="25.0" fill="#000"/>
<rect x="245.3" y="208.1" width="1.5" height="23.6" fill="#00a000"/>
<rect x="250.0" y="204.0" width="1" height="26.0" fill="#222"/>
<rect x="249.1" y="204.0" width="2.8" height="22.7" fill="#000"/>
<rect x="249.3" y="204.7" width="1.5" height="21.3" fill="#c00000"/>
<rect x="254.0" y="223.4" width="1" height="23.0" fill="#222"/>
<rect x="253.1" y="224.0" width="2.8" height="9.0" fill="#000"/>
<rect x="253.3" y="224.7" width="1.5" height="7.6" fill="#c00000"/>
<rect x="258.0" y="216.8" width="1" height="25.5" fill="#222"/>
<rect x="257.0" y="231.5" width="3" height="1.2" fill="#111"/>
<rect x="262.0" y="231.0" width="1" height="22.0" fill="#222"/>
<rect x="261.1" y="231.0" width="2.8" height="22.0" fill="#000"/>
<rect x="261.3" y="231.7" width="1.5" height="20.6" fill="#c00000"/>
<rect x="266.0" y="251.0" width="1" height="6.0" fill="#222"/>
<rect x="265.0" y="253.6" width="3" height="1.0" fill="#111"/>
<rect x="270.0" y="238.0" width="1" height="15.8" fill="#222"/>
<rect x="269.1" y="243.0" width="2.8" height="10.5" fill="#000"/>
<rect x="269.3" y="243.7" width="1.5" height="9.1" fill="#00a000"/>
<rect x="274.0" y="233.0" width="1" height="7.0" fill="#222"/>
<rect x="273.1" y="236.5" width="2.8" height="1.5" fill="#000"/>
<rect x="278.0" y="232.0" width="1" height="8.0" fill="#222"/>
<rect x="277.1" y="232.0" width="2.8" height="8.0" fill="#000"/>
<rect x="277.3" y="232.7" width="1.5" height="6.6" fill="#c00000"/>
<rect x="286.0" y="196.5" width="1" height="21.9" fill="#222"/>
<rect x="285.1" y="196.5" width="2.8" height="21.9" fill="#000"/>
<rect x="285.3" y="197.2" width="1.5" height="20.5" fill="#00a000"/>
<rect x="290.0" y="172.3" width="1" height="20.7" fill="#222"/>
<rect x="289.1" y="176.5" width="2.8" height="16.5" fill="#000"/>
<rect x="289.3" y="177.2" width="1.5" height="15.1" fill="#00a000"/>
<rect x="294.0" y="178.0" width="1" height="9.0" fill="#222"/>
<rect x="293.1" y="184.0" width="2.8" height="3.0" fill="#000"/>
<rect x="293.3" y="184.7" width="1.5" height="1.6" fill="#c00000"/>
<rect x="298.0" y="186.3" width="1" height="10.2" fill="#222"/>
<rect x="297.1" y="186.3" width="2.8" height="10.2" fill="#000"/>
<rect x="297.3" y="187.0" width="1.5" height="8.8" fill="#c00000"/>
<rect x="302.0" y="189.6" width="1" height="32.9" fill="#222"/>
<rect x="301.1" y="195.0" width="2.8" height="27.5" fill="#000"/>
<rect x="301.3" y="195.7" width="1.5" height="26.1" fill="#c00000"/>
<rect x="306.0" y="221.0" width="1" height="13.0" fill="#222"/>
<rect x="305.1" y="221.0" width="2.8" height="13.0" fill="#000"/>
<rect x="305.3" y="221.7" width="1.5" height="11.6" fill="#c00000"/>
<rect x="310.0" y="240.6" width="1" height="19.9" fill="#222"/>
<rect x="309.0" y="250.0" width="3" height="1.0" fill="#111"/>
<rect x="314.0" y="238.0" width="1" height="54.7" fill="#222"/>
<rect x="313.1" y="238.0" width="2.8" height="54.7" fill="#000"/>
<rect x="313.3" y="238.7" width="1.5" height="53.3" fill="#c00000"/>
<rect x="318.0" y="283.6" width="1" height="23.9" fill="#222"/>
<rect x="317.1" y="296.0" width="2.8" height="3.0" fill="#000"/>
<rect x="317.3" y="296.7" width="1.5" height="1.6" fill="#c00000"/>
<rect x="322.0" y="281.0" width="1" height="11.7" fill="#222"/>
<rect x="321.0" y="287.0" width="3" height="1.4" fill="#111"/>
<rect x="326.0" y="322.3" width="1" height="1.0" fill="#222"/>
<rect x="325.0" y="322.3" width="3" height="1.0" fill="#111"/>
<rect x="330.0" y="306.7" width="1" height="21.3" fill="#222"/>
<rect x="329.0" y="316.4" width="3" height="1.0" fill="#111"/>
<rect x="334.0" y="293.5" width="1" height="51.0" fill="#222"/>
<rect x="333.1" y="294.3" width="2.8" height="34.7" fill="#000"/>
<rect x="333.3" y="295.0" width="1.5" height="33.3" fill="#00a000"/>
<rect x="338.0" y="291.0" width="1" height="49.4" fill="#222"/>
<rect x="337.1" y="291.0" width="2.8" height="49.4" fill="#000"/>
<rect x="337.3" y="291.7" width="1.5" height="48.0" fill="#c00000"/>
<rect x="342.0" y="334.7" width="1" height="34.0" fill="#222"/>
<rect x="341.1" y="340.4" width="2.8" height="28.3" fill="#000"/>
<rect x="341.3" y="341.1" width="1.5" height="26.9" fill="#c00000"/>
<rect x="346.0" y="300.0" width="1" height="38.8" fill="#222"/>
<rect x="345.1" y="300.0" width="2.8" height="38.8" fill="#000"/>
<rect x="345.3" y="300.7" width="1.5" height="37.4" fill="#00a000"/>
<rect x="350.0" y="296.0" width="1" height="32.0" fill="#222"/>
<rect x="349.1" y="300.0" width="2.8" height="28.0" fill="#000"/>
<rect x="349.3" y="300.7" width="1.5" height="26.6" fill="#c00000"/>
<rect x="354.0" y="303.4" width="1" height="11.6" fill="#222"/>
<rect x="353.0" y="309.0" width="3" height="1.0" fill="#111"/>
<rect x="358.0" y="307.0" width="1" height="25.0" fill="#222"/>
<rect x="357.1" y="307.0" width="2.8" height="17.8" fill="#000"/>
<rect x="357.3" y="307.7" width="1.5" height="16.4" fill="#c00000"/>
<rect x="362.0" y="314.0" width="1" height="23.0" fill="#222"/>
<rect x="361.1" y="323.0" width="2.8" height="8.4" fill="#000"/>
<rect x="361.3" y="323.7" width="1.5" height="7.0" fill="#c00000"/>
<rect x="366.0" y="345.3" width="1" height="19.7" fill="#222"/>
<rect x="365.1" y="345.6" width="2.8" height="9.1" fill="#000"/>
<rect x="365.3" y="346.3" width="1.5" height="7.7" fill="#c00000"/>
<rect x="370.0" y="368.7" width="1" height="27.3" fill="#222"/>
<rect x="369.1" y="373.6" width="2.8" height="22.4" fill="#000"/>
<rect x="369.3" y="374.3" width="1.5" height="21.0" fill="#c00000"/>
<rect x="374.0" y="383.5" width="1" height="13.2" fill="#222"/>
<rect x="373.0" y="390.0" width="3" height="1.0" fill="#111"/>
<rect x="378.0" y="372.0" width="1" height="21.4" fill="#222"/>
<rect x="377.1" y="385.0" width="2.8" height="7.5" fill="#000"/>
<rect x="377.3" y="385.7" width="1.5" height="6.1" fill="#00a000"/>
<rect x="382.0" y="362.0" width="1" height="12.4" fill="#222"/>
<rect x="381.1" y="362.0" width="2.8" height="7.5" fill="#000"/>
<rect x="381.3" y="362.7" width="1.5" height="6.1" fill="#00a000"/>
<rect x="386.0" y="344.5" width="1" height="31.5" fill="#222"/>
<rect x="385.1" y="344.5" width="2.8" height="16.0" fill="#000"/>
<rect x="385.3" y="345.2" width="1.5" height="14.6" fill="#00a000"/>
<rect x="390.0" y="338.8" width="1" height="11.0" fill="#222"/>
<rect x="389.1" y="339.5" width="2.8" height="10.3" fill="#000"/>
<rect x="389.3" y="340.2" width="1.5" height="8.9" fill="#00a000"/>
<rect x="394.0" y="350.6" width="1" height="16.4" fill="#222"/>
<rect x="393.1" y="354.7" width="2.8" height="12.3" fill="#000"/>
<rect x="393.3" y="355.4" width="1.5" height="10.9" fill="#c00000"/>
<rect x="398.0" y="369.0" width="1" height="30.0" fill="#222"/>
<rect x="397.1" y="373.0" width="2.8" height="21.0" fill="#000"/>
<rect x="397.3" y="373.7" width="1.5" height="19.6" fill="#c00000"/>
<rect x="402.0" y="382.3" width="1" height="6.1" fill="#222"/>
<rect x="401.0" y="385.2" width="3" height="1.0" fill="#111"/>
<rect x="406.0" y="391.0" width="1" height="23.0" fill="#222"/>
<rect x="405.1" y="391.0" width="2.8" height="23.0" fill="#000"/>
<rect x="405.3" y="391.7" width="1.5" height="21.6" fill="#c00000"/>
<rect x="410.0" y="429.0" width="1" height="36.8" fill="#222"/>
<rect x="409.1" y="429.6" width="2.8" height="36.2" fill="#000"/>
<rect x="409.3" y="430.3" width="1.5" height="34.8" fill="#c00000"/>
<rect x="414.0" y="439.5" width="1" height="44.5" fill="#222"/>
<rect x="413.1" y="463.4" width="2.8" height="16.4" fill="#000"/>
<rect x="413.3" y="464.1" width="1.5" height="15.0" fill="#00a000"/>
<rect x="418.0" y="448.1" width="1" height="1.0" fill="#222"/>
<rect x="417.0" y="448.1" width="3" height="1.0" fill="#111"/>
<rect x="422.0" y="415.6" width="1" height="47.8" fill="#222"/>
<rect x="421.1" y="433.0" width="2.8" height="14.7" fill="#000"/>
<rect x="421.3" y="433.7" width="1.5" height="13.3" fill="#00a000"/>
<rect x="426.0" y="408.2" width="1" height="40.4" fill="#222"/>
<rect x="425.1" y="417.3" width="2.8" height="31.3" fill="#000"/>
<rect x="425.3" y="418.0" width="1.5" height="29.9" fill="#c00000"/>
<rect x="430.0" y="439.5" width="1" height="30.5" fill="#222"/>
<rect x="429.1" y="444.4" width="2.8" height="20.6" fill="#000"/>
<rect x="429.3" y="445.1" width="1.5" height="19.2" fill="#00a000"/>
<rect x="434.0" y="422.0" width="1" height="35.6" fill="#222"/>
<rect x="433.1" y="422.0" width="2.8" height="35.6" fill="#000"/>
<rect x="433.3" y="422.7" width="1.5" height="34.2" fill="#c00000"/>
<rect x="438.0" y="427.0" width="1" height="28.0" fill="#222"/>
<rect x="437.1" y="427.0" width="2.8" height="28.0" fill="#000"/>
<rect x="437.3" y="427.7" width="1.5" height="26.6" fill="#00a000"/>
<rect x="442.0" y="409.0" width="1" height="34.6" fill="#222"/>
<rect x="441.1" y="428.0" width="2.8" height="7.4" fill="#000"/>
<rect x="441.3" y="428.7" width="1.5" height="6.0" fill="#c00000"/>
<rect x="446.0" y="428.8" width="1" height="21.2" fill="#222"/>
<rect x="445.1" y="432.0" width="2.8" height="18.0" fill="#000"/>
<rect x="445.3" y="432.7" width="1.5" height="16.6" fill="#00a000"/>
<rect x="450.0" y="415.6" width="1" height="16.4" fill="#222"/>
<rect x="449.1" y="424.7" width="2.8" height="6.6" fill="#000"/>
<rect x="449.3" y="425.4" width="1.5" height="5.2" fill="#00a000"/>
<rect x="454.0" y="388.4" width="1" height="20.3" fill="#222"/>
<rect x="453.1" y="391.0" width="2.8" height="17.7" fill="#000"/>
<rect x="453.3" y="391.7" width="1.5" height="16.3" fill="#00a000"/>
<rect x="458.0" y="392.5" width="1" height="4.2" fill="#222"/>
<rect x="457.1" y="392.5" width="2.8" height="4.2" fill="#000"/>
<rect x="457.3" y="393.2" width="1.5" height="2.8" fill="#c00000"/>
<rect x="462.0" y="381.4" width="1" height="27.3" fill="#222"/>
<rect x="461.1" y="381.4" width="2.8" height="27.3" fill="#000"/>
<rect x="461.3" y="382.1" width="1.5" height="25.9" fill="#00a000"/>
<rect x="466.0" y="384.0" width="1" height="23.4" fill="#222"/>
<rect x="465.1" y="384.0" width="2.8" height="17.6" fill="#000"/>
<rect x="465.3" y="384.7" width="1.5" height="16.2" fill="#c00000"/>
<rect x="470.0" y="379.4" width="1" height="18.4" fill="#222"/>
<rect x="469.1" y="385.0" width="2.8" height="12.8" fill="#000"/>
<rect x="469.3" y="385.7" width="1.5" height="11.4" fill="#00a000"/>
<rect x="474.0" y="368.0" width="1" height="15.5" fill="#222"/>
<rect x="473.1" y="373.0" width="2.8" height="8.0" fill="#000"/>
<rect x="473.3" y="373.7" width="1.5" height="6.6" fill="#00a000"/>
<rect x="478.0" y="377.7" width="1" height="12.3" fill="#222"/>
<rect x="477.0" y="381.8" width="3" height="1.0" fill="#111"/>
<rect x="482.0" y="360.0" width="1" height="20.0" fill="#222"/>
<rect x="481.1" y="367.0" width="2.8" height="10.0" fill="#000"/>
<rect x="481.3" y="367.7" width="1.5" height="8.6" fill="#c00000"/>
<rect x="486.0" y="370.3" width="1" height="7.4" fill="#222"/>
<rect x="485.0" y="374.0" width="3" height="1.5" fill="#111"/>
<rect x="490.0" y="371.0" width="1" height="16.0" fill="#222"/>
<rect x="489.1" y="373.5" width="2.8" height="13.5" fill="#000"/>
<rect x="489.3" y="374.2" width="1.5" height="12.1" fill="#c00000"/>
<rect x="494.0" y="380.0" width="1" height="25.8" fill="#222"/>
<rect x="493.1" y="380.0" width="2.8" height="21.0" fill="#000"/>
<rect x="493.3" y="380.7" width="1.5" height="19.6" fill="#c00000"/>
<rect x="498.0" y="383.0" width="1" height="21.0" fill="#222"/>
<rect x="497.1" y="383.0" width="2.8" height="20.0" fill="#000"/>
<rect x="497.3" y="383.7" width="1.5" height="18.6" fill="#00a000"/>
<rect x="502.0" y="380.5" width="1" height="9.9" fill="#222"/>
<rect x="501.1" y="380.5" width="2.8" height="6.5" fill="#000"/>
<rect x="501.3" y="381.2" width="1.5" height="5.1" fill="#00a000"/>
<rect x="506.0" y="351.7" width="1" height="16.3" fill="#222"/>
<rect x="505.1" y="355.8" width="2.8" height="12.2" fill="#000"/>
<rect x="505.3" y="356.5" width="1.5" height="10.8" fill="#00a000"/>
<rect x="510.0" y="339.4" width="1" height="18.6" fill="#222"/>
<rect x="509.1" y="339.4" width="2.8" height="14.0" fill="#000"/>
<rect x="509.3" y="340.1" width="1.5" height="12.6" fill="#c00000"/>
<rect x="514.0" y="317.7" width="1" height="39.0" fill="#222"/>
<rect x="513.1" y="317.7" width="2.8" height="39.0" fill="#000"/>
<rect x="513.3" y="318.4" width="1.5" height="37.6" fill="#00a000"/>
<rect x="518.0" y="311.0" width="1" height="15.2" fill="#222"/>
<rect x="517.1" y="317.7" width="2.8" height="8.5" fill="#000"/>
<rect x="517.3" y="318.4" width="1.5" height="7.1" fill="#c00000"/>
<rect x="522.0" y="320.0" width="1" height="31.7" fill="#222"/>
<rect x="521.1" y="320.0" width="2.8" height="24.3" fill="#000"/>
<rect x="521.3" y="320.7" width="1.5" height="22.9" fill="#c00000"/>
<rect x="526.0" y="359.0" width="1" height="20.0" fill="#222"/>
<rect x="525.1" y="359.0" width="2.8" height="18.2" fill="#000"/>
<rect x="525.3" y="359.7" width="1.5" height="16.8" fill="#c00000"/>
<rect x="530.0" y="359.0" width="1" height="15.8" fill="#222"/>
<rect x="529.1" y="365.0" width="2.8" height="9.0" fill="#000"/>
<rect x="529.3" y="365.7" width="1.5" height="7.6" fill="#00a000"/>
<rect x="534.0" y="360.8" width="1" height="28.0" fill="#222"/>
<rect x="533.1" y="360.8" width="2.8" height="8.2" fill="#000"/>
<rect x="533.3" y="361.5" width="1.5" height="6.8" fill="#00a000"/>
<rect x="538.0" y="315.0" width="1" height="30.0" fill="#222"/>
<rect x="537.1" y="315.0" width="2.8" height="30.0" fill="#000"/>
<rect x="537.3" y="315.7" width="1.5" height="28.6" fill="#00a000"/>
<rect x="542.0" y="279.7" width="1" height="41.3" fill="#222"/>
<rect x="541.1" y="289.6" width="2.8" height="27.4" fill="#000"/>
<rect x="541.3" y="290.3" width="1.5" height="26.0" fill="#00a000"/>
<rect x="546.0" y="272.0" width="1" height="32.8" fill="#222"/>
<rect x="545.0" y="291.5" width="3" height="1.2" fill="#111"/>
<rect x="550.0" y="295.8" width="1" height="12.2" fill="#222"/>
<rect x="549.1" y="297.0" width="2.8" height="6.0" fill="#000"/>
<rect x="549.3" y="297.7" width="1.5" height="4.6" fill="#c00000"/>
<rect x="554.0" y="266.0" width="1" height="49.5" fill="#222"/>
<rect x="553.1" y="267.4" width="2.8" height="44.0" fill="#000"/>
<rect x="553.3" y="268.1" width="1.5" height="42.6" fill="#00a000"/>
<rect x="558.0" y="245.0" width="1" height="34.7" fill="#222"/>
<rect x="557.1" y="245.0" width="2.8" height="15.8" fill="#000"/>
<rect x="557.3" y="245.7" width="1.5" height="14.4" fill="#00a000"/>
<rect x="562.0" y="234.0" width="1" height="33.4" fill="#222"/>
<rect x="561.1" y="249.0" width="2.8" height="4.4" fill="#000"/>
<rect x="561.3" y="249.7" width="1.5" height="3.0" fill="#c00000"/>
<rect x="566.0" y="242.3" width="1" height="21.7" fill="#222"/>
<rect x="565.1" y="242.3" width="2.8" height="19.3" fill="#000"/>
<rect x="565.3" y="243.0" width="1.5" height="17.9" fill="#00a000"/>
<rect x="570.0" y="234.0" width="1" height="25.0" fill="#222"/>
<rect x="569.1" y="242.3" width="2.8" height="16.7" fill="#000"/>
<rect x="569.3" y="243.0" width="1.5" height="15.3" fill="#c00000"/>
<rect x="574.0" y="254.5" width="1" height="35.1" fill="#222"/>
<rect x="573.1" y="254.5" width="2.8" height="35.1" fill="#000"/>
<rect x="573.3" y="255.2" width="1.5" height="33.7" fill="#c00000"/>
<rect x="578.0" y="291.0" width="1" height="16.3" fill="#222"/>
<rect x="577.1" y="291.0" width="2.8" height="16.3" fill="#000"/>
<rect x="577.3" y="291.7" width="1.5" height="14.9" fill="#c00000"/>
<rect x="582.0" y="288.0" width="1" height="27.5" fill="#222"/>
<rect x="581.0" y="304.3" width="3" height="1.1" fill="#111"/>
<rect x="586.0" y="287.0" width="1" height="21.0" fill="#222"/>
<rect x="585.1" y="287.0" width="2.8" height="13.7" fill="#000"/>
<rect x="585.3" y="287.7" width="1.5" height="12.3" fill="#00a000"/>
<rect x="590.0" y="270.3" width="1" height="26.7" fill="#222"/>
<rect x="589.1" y="279.0" width="2.8" height="9.8" fill="#000"/>
<rect x="589.3" y="279.7" width="1.5" height="8.4" fill="#00a000"/>
<rect x="594.0" y="255.0" width="1" height="26.4" fill="#222"/>
<rect x="593.1" y="255.0" width="2.8" height="26.4" fill="#000"/>
<rect x="593.3" y="255.7" width="1.5" height="25.0" fill="#00a000"/>
<rect x="598.0" y="257.5" width="1" height="14.8" fill="#222"/>
<rect x="597.1" y="261.6" width="2.8" height="10.7" fill="#000"/>
<rect x="597.3" y="262.3" width="1.5" height="9.3" fill="#c00000"/>
<rect x="602.0" y="277.0" width="1" height="25.0" fill="#222"/>
<rect x="601.1" y="277.0" width="2.8" height="16.7" fill="#000"/>
<rect x="601.3" y="277.7" width="1.5" height="15.3" fill="#c00000"/>
<rect x="606.0" y="260.8" width="1" height="28.8" fill="#222"/>
<rect x="605.1" y="264.4" width="2.8" height="25.2" fill="#000"/>
<rect x="605.3" y="265.1" width="1.5" height="23.8" fill="#00a000"/>
<rect x="610.0" y="241.0" width="1" height="13.2" fill="#222"/>
<rect x="609.1" y="245.0" width="2.8" height="9.2" fill="#000"/>
<rect x="609.3" y="245.7" width="1.5" height="7.8" fill="#00a000"/>
<rect x="614.0" y="203.5" width="1" height="26.3" fill="#222"/>
<rect x="613.1" y="203.5" width="2.8" height="26.3" fill="#000"/>
<rect x="613.3" y="204.2" width="1.5" height="24.9" fill="#00a000"/>
<rect x="618.0" y="196.6" width="1" height="22.7" fill="#222"/>
<rect x="617.1" y="203.5" width="2.8" height="15.8" fill="#000"/>
<rect x="617.3" y="204.2" width="1.5" height="14.4" fill="#c00000"/>
<rect x="622.0" y="195.8" width="1" height="29.6" fill="#222"/>
<rect x="621.1" y="217.0" width="2.8" height="8.4" fill="#000"/>
<rect x="621.3" y="217.7" width="1.5" height="7.0" fill="#00a000"/>
<rect x="626.0" y="190.0" width="1" height="37.0" fill="#222"/>
<rect x="625.1" y="209.8" width="2.8" height="13.9" fill="#000"/>
<rect x="625.3" y="210.5" width="1.5" height="12.5" fill="#c00000"/>
<rect x="630.0" y="212.0" width="1" height="20.5" fill="#222"/>
<rect x="629.1" y="216.7" width="2.8" height="5.9" fill="#000"/>
<rect x="629.3" y="217.4" width="1.5" height="4.5" fill="#c00000"/>
<rect x="634.0" y="219.6" width="1" height="23.9" fill="#222"/>
<rect x="633.1" y="219.6" width="2.8" height="7.9" fill="#000"/>
<rect x="633.3" y="220.3" width="1.5" height="6.5" fill="#c00000"/>
<rect x="638.0" y="205.6" width="1" height="27.2" fill="#222"/>
<rect x="637.1" y="213.5" width="2.8" height="19.3" fill="#000"/>
<rect x="637.3" y="214.2" width="1.5" height="17.9" fill="#00a000"/>
<rect x="642.0" y="201.5" width="1" height="36.2" fill="#222"/>
<rect x="641.1" y="209.8" width="2.8" height="27.9" fill="#000"/>
<rect x="641.3" y="210.5" width="1.5" height="26.5" fill="#c00000"/>
<rect x="646.0" y="237.7" width="1" height="14.8" fill="#222"/>
<rect x="645.0" y="241.4" width="3" height="2.1" fill="#111"/>
<rect x="650.0" y="230.0" width="1" height="10.0" fill="#222"/>
<rect x="649.1" y="231.0" width="2.8" height="4.0" fill="#000"/>
<rect x="649.3" y="231.7" width="1.5" height="2.6" fill="#c00000"/>
<rect x="654.0" y="222.6" width="1" height="22.0" fill="#222"/>
<rect x="653.1" y="222.6" width="2.8" height="22.0" fill="#000"/>
<rect x="653.3" y="223.3" width="1.5" height="20.6" fill="#00a000"/>
<rect x="658.0" y="194.6" width="1" height="21.4" fill="#222"/>
<rect x="657.0" y="204.0" width="3" height="1.6" fill="#111"/>
<rect x="662.0" y="188.0" width="1" height="21.8" fill="#222"/>
<rect x="661.0" y="205.0" width="3" height="2.0" fill="#111"/>
<rect x="666.0" y="212.0" width="1" height="26.6" fill="#222"/>
<rect x="665.1" y="212.7" width="2.8" height="25.9" fill="#000"/>
<rect x="665.3" y="213.4" width="1.5" height="24.5" fill="#c00000"/>
<rect x="670.0" y="231.0" width="1" height="23.0" fill="#222"/>
<rect x="669.1" y="234.4" width="2.8" height="10.6" fill="#000"/>
<rect x="669.3" y="235.1" width="1.5" height="9.2" fill="#c00000"/>
<rect x="674.0" y="238.6" width="1" height="15.4" fill="#222"/>
<rect x="673.1" y="241.0" width="2.8" height="3.0" fill="#000"/>
<rect x="673.3" y="241.7" width="1.5" height="1.6" fill="#c00000"/>
<rect x="678.0" y="241.0" width="1" height="19.8" fill="#222"/>
<rect x="677.1" y="241.4" width="2.8" height="2.1" fill="#000"/>
<rect x="677.3" y="242.1" width="1.5" height="0.7" fill="#c00000"/>
<rect x="682.0" y="218.0" width="1" height="12.3" fill="#222"/>
<rect x="681.1" y="224.2" width="2.8" height="5.3" fill="#000"/>
<rect x="681.3" y="224.9" width="1.5" height="3.9" fill="#00a000"/>
<rect x="686.0" y="225.4" width="1" height="18.9" fill="#222"/>
<rect x="685.1" y="230.3" width="2.8" height="12.4" fill="#000"/>
<rect x="685.3" y="231.0" width="1.5" height="11.0" fill="#c00000"/>
<rect x="690.0" y="223.0" width="1" height="19.7" fill="#222"/>
<rect x="689.1" y="234.0" width="2.8" height="7.9" fill="#000"/>
<rect x="689.3" y="234.7" width="1.5" height="6.5" fill="#c00000"/>
<rect x="694.0" y="186.0" width="1" height="39.4" fill="#222"/>
<rect x="693.1" y="186.0" width="2.8" height="39.4" fill="#000"/>
<rect x="693.3" y="186.7" width="1.5" height="38.0" fill="#00a000"/>
<rect x="698.0" y="161.0" width="1" height="36.0" fill="#222"/>
<rect x="697.1" y="170.6" width="2.8" height="14.8" fill="#000"/>
<rect x="697.3" y="171.3" width="1.5" height="13.4" fill="#00a000"/>
<rect x="702.0" y="157.7" width="1" height="20.6" fill="#222"/>
<rect x="701.1" y="170.0" width="2.8" height="8.3" fill="#000"/>
<rect x="701.3" y="170.7" width="1.5" height="6.9" fill="#c00000"/>
<rect x="706.0" y="162.0" width="1" height="15.5" fill="#222"/>
<rect x="705.1" y="165.0" width="2.8" height="12.5" fill="#000"/>
<rect x="705.3" y="165.7" width="1.5" height="11.1" fill="#00a000"/>
<rect x="710.0" y="147.0" width="1" height="21.0" fill="#222"/>
<rect x="709.1" y="156.4" width="2.8" height="11.6" fill="#000"/>
<rect x="709.3" y="157.1" width="1.5" height="10.2" fill="#c00000"/>
<rect x="714.0" y="166.8" width="1" height="29.6" fill="#222"/>
<rect x="713.1" y="172.5" width="2.8" height="17.8" fill="#000"/>
<rect x="713.3" y="173.2" width="1.5" height="16.4" fill="#c00000"/>
<rect x="718.0" y="175.0" width="1" height="14.0" fill="#222"/>
<rect x="717.1" y="176.7" width="2.8" height="10.3" fill="#000"/>
<rect x="717.3" y="177.4" width="1.5" height="8.9" fill="#00a000"/>
<rect x="722.0" y="148.2" width="1" height="17.4" fill="#222"/>
<rect x="721.1" y="157.7" width="2.8" height="7.9" fill="#000"/>
<rect x="721.3" y="158.4" width="1.5" height="6.5" fill="#00a000"/>
<rect x="726.0" y="134.4" width="1" height="31.6" fill="#222"/>
<rect x="725.1" y="134.4" width="2.8" height="15.1" fill="#000"/>
<rect x="725.3" y="135.1" width="1.5" height="13.7" fill="#00a000"/>
<rect x="730.0" y="134.4" width="1" height="23.3" fill="#222"/>
<rect x="729.1" y="142.0" width="2.8" height="15.7" fill="#000"/>
<rect x="729.3" y="142.7" width="1.5" height="14.3" fill="#c00000"/>
<rect x="734.0" y="148.7" width="1" height="18.1" fill="#222"/>
<rect x="733.1" y="159.0" width="2.8" height="3.3" fill="#000"/>
<rect x="733.3" y="159.7" width="1.5" height="1.9" fill="#00a000"/>
<rect x="738.0" y="153.6" width="1" height="30.4" fill="#222"/>
<rect x="737.1" y="161.4" width="2.8" height="17.6" fill="#000"/>
<rect x="737.3" y="162.1" width="1.5" height="16.2" fill="#c00000"/>
<rect x="742.0" y="175.0" width="1" height="16.5" fill="#222"/>
<rect x="741.0" y="183.0" width="3" height="1.0" fill="#111"/>
<rect x="746.0" y="162.3" width="1" height="20.1" fill="#222"/>
<rect x="745.1" y="166.3" width="2.8" height="8.7" fill="#000"/>
<rect x="745.3" y="167.0" width="1.5" height="7.3" fill="#00a000"/>
<rect x="750.0" y="163.0" width="1" height="62.0" fill="#222"/>
<rect x="749.1" y="166.3" width="2.8" height="56.2" fill="#000"/>
<rect x="749.3" y="167.0" width="1.5" height="54.8" fill="#c00000"/>
<rect x="754.0" y="217.0" width="1" height="20.6" fill="#222"/>
<rect x="753.1" y="222.5" width="2.8" height="5.5" fill="#000"/>
<rect x="753.3" y="223.2" width="1.5" height="4.1" fill="#c00000"/>
<rect x="758.0" y="210.5" width="1" height="17.2" fill="#222"/>
<rect x="757.1" y="213.7" width="2.8" height="10.7" fill="#000"/>
<rect x="757.3" y="214.4" width="1.5" height="9.3" fill="#00a000"/>
<rect x="762.0" y="206.3" width="1" height="24.7" fill="#222"/>
<rect x="761.1" y="211.3" width="2.8" height="5.7" fill="#000"/>
<rect x="761.3" y="212.0" width="1.5" height="4.3" fill="#c00000"/>
<rect x="766.0" y="205.5" width="1" height="14.8" fill="#222"/>
<rect x="765.1" y="205.5" width="2.8" height="14.8" fill="#000"/>
<rect x="765.3" y="206.2" width="1.5" height="13.4" fill="#c00000"/>
<rect x="770.0" y="202.0" width="1" height="27.4" fill="#222"/>
<rect x="769.1" y="207.0" width="2.8" height="17.4" fill="#000"/>
<rect x="769.3" y="207.7" width="1.5" height="16.0" fill="#00a000"/>
<rect x="774.0" y="196.0" width="1" height="21.0" fill="#222"/>
<rect x="773.1" y="208.0" width="2.8" height="6.6" fill="#000"/>
<rect x="773.3" y="208.7" width="1.5" height="5.2" fill="#c00000"/>
<rect x="778.0" y="199.7" width="1" height="17.3" fill="#222"/>
<rect x="777.1" y="207.0" width="2.8" height="5.0" fill="#000"/>
<rect x="777.3" y="207.7" width="1.5" height="3.6" fill="#00a000"/>
<rect x="782.0" y="206.3" width="1" height="23.9" fill="#222"/>
<rect x="781.1" y="211.3" width="2.8" height="18.9" fill="#000"/>
<rect x="781.3" y="212.0" width="1.5" height="17.5" fill="#c00000"/>
<rect x="786.0" y="227.7" width="1" height="9.9" fill="#222"/>
<rect x="785.1" y="227.7" width="2.8" height="3.3" fill="#000"/>
<rect x="785.3" y="228.4" width="1.5" height="1.9" fill="#c00000"/>
<rect x="790.0" y="235.0" width="1" height="16.6" fill="#222"/>
<rect x="789.1" y="240.0" width="2.8" height="3.4" fill="#000"/>
<rect x="789.3" y="240.7" width="1.5" height="2.0" fill="#c00000"/>
<rect x="794.0" y="232.7" width="1" height="16.3" fill="#222"/>
<rect x="793.1" y="240.0" width="2.8" height="5.0" fill="#000"/>
<rect x="793.3" y="240.7" width="1.5" height="3.6" fill="#c00000"/>
<rect x="798.0" y="241.0" width="1" height="18.8" fill="#222"/>
<rect x="797.1" y="246.7" width="2.8" height="9.0" fill="#000"/>
<rect x="797.3" y="247.4" width="1.5" height="7.6" fill="#c00000"/>
<rect x="802.0" y="236.8" width="1" height="16.5" fill="#222"/>
<rect x="801.0" y="242.0" width="3" height="1.0" fill="#111"/>
<rect x="806.0" y="243.4" width="1" height="14.8" fill="#222"/>
<rect x="805.1" y="245.8" width="2.8" height="8.2" fill="#000"/>
<rect x="805.3" y="246.5" width="1.5" height="6.8" fill="#c00000"/>
<rect x="810.0" y="241.0" width="1" height="28.7" fill="#222"/>
<rect x="809.1" y="246.7" width="2.8" height="18.1" fill="#000"/>
<rect x="809.3" y="247.4" width="1.5" height="16.7" fill="#00a000"/>
<rect x="814.0" y="208.0" width="1" height="27.0" fill="#222"/>
<rect x="813.1" y="208.0" width="2.8" height="27.0" fill="#000"/>
<rect x="813.3" y="208.7" width="1.5" height="25.6" fill="#00a000"/>
<rect x="818.0" y="181.0" width="1" height="20.4" fill="#222"/>
<rect x="817.1" y="181.0" width="2.8" height="20.4" fill="#000"/>
<rect x="817.3" y="181.7" width="1.5" height="19.0" fill="#00a000"/>
<rect x="822.0" y="172.0" width="1" height="17.6" fill="#222"/>
<rect x="821.0" y="181.7" width="3" height="1.0" fill="#111"/>
<rect x="826.0" y="175.0" width="1" height="10.6" fill="#222"/>
<rect x="825.1" y="178.0" width="2.8" height="3.6" fill="#000"/>
<rect x="825.3" y="178.7" width="1.5" height="2.2" fill="#c00000"/>
<rect x="830.0" y="135.4" width="1" height="41.6" fill="#222"/>
<rect x="829.1" y="140.8" width="2.8" height="36.2" fill="#000"/>
<rect x="829.3" y="141.5" width="1.5" height="34.8" fill="#00a000"/>
<rect x="834.0" y="118.0" width="1" height="28.0" fill="#222"/>
<rect x="833.1" y="126.7" width="2.8" height="8.7" fill="#000"/>
<rect x="833.3" y="127.4" width="1.5" height="7.3" fill="#00a000"/>
<rect x="838.0" y="124.0" width="1" height="19.5" fill="#222"/>
<rect x="837.1" y="128.7" width="2.8" height="10.1" fill="#000"/>
<rect x="837.3" y="129.4" width="1.5" height="8.7" fill="#c00000"/>
<rect x="842.0" y="111.4" width="1" height="22.0" fill="#222"/>
<rect x="841.1" y="111.4" width="2.8" height="20.0" fill="#000"/>
<rect x="841.3" y="112.1" width="1.5" height="18.6" fill="#00a000"/>
<rect x="846.0" y="85.5" width="1" height="38.1" fill="#222"/>
<rect x="845.1" y="101.5" width="2.8" height="12.0" fill="#000"/>
<rect x="845.3" y="102.2" width="1.5" height="10.6" fill="#00a000"/>
<rect x="850.0" y="77.4" width="1" height="35.6" fill="#222"/>
<rect x="849.1" y="90.6" width="2.8" height="12.9" fill="#000"/>
<rect x="849.3" y="91.3" width="1.5" height="11.5" fill="#c00000"/>
<rect x="854.0" y="86.8" width="1" height="34.8" fill="#222"/>
<rect x="853.1" y="100.5" width="2.8" height="21.1" fill="#000"/>
<rect x="853.3" y="101.2" width="1.5" height="19.7" fill="#c00000"/>
<rect x="858.0" y="111.0" width="1" height="21.0" fill="#222"/>
<rect x="857.1" y="117.0" width="2.8" height="4.6" fill="#000"/>
<rect x="857.3" y="117.7" width="1.5" height="3.2" fill="#00a000"/>
<rect x="862.0" y="74.0" width="1" height="43.0" fill="#222"/>
<rect x="861.1" y="74.0" width="2.8" height="31.3" fill="#000"/>
<rect x="861.3" y="74.7" width="1.5" height="29.9" fill="#00a000"/>
<rect x="866.0" y="59.4" width="1" height="32.1" fill="#222"/>
<rect x="865.0" y="76.0" width="3" height="2.0" fill="#111"/>
<rect x="870.0" y="65.4" width="1" height="6.6" fill="#222"/>
<rect x="869.1" y="65.4" width="2.8" height="6.6" fill="#000"/>
<rect x="869.3" y="66.1" width="1.5" height="5.2" fill="#000080"/>
</g>
<text x="135.0" y="167.0" font-size="10" fill="#2020ff" text-anchor="middle" font-weight="bold" font-style="italic" >432</text>
<text x="290.5" y="137.5" font-size="10" fill="#ff00ff" text-anchor="middle" font-weight="bold" font-style="italic" >1937</text>
<text x="290.5" y="153.5" font-size="10" fill="#ff00ff" text-anchor="middle" font-weight="bold" font-style="italic" >X</text>
<text x="290.5" y="168.0" font-size="10" fill="#2020ff" text-anchor="middle" font-weight="bold" font-style="italic" >409</text>
<text x="727.0" y="100.5" font-size="10" fill="#ff00ff" text-anchor="middle" font-weight="bold" font-style="italic" >2019</text>
<text x="726.5" y="115.5" font-size="10" fill="#ff00ff" text-anchor="middle" font-weight="bold" font-style="italic" >B</text>
<text x="727.0" y="131.5" font-size="10" fill="#2020ff" text-anchor="middle" font-weight="bold" font-style="italic" >759</text>
<text x="811.0" y="279.0" font-size="10" fill="#2020ff" text-anchor="middle" font-weight="bold" font-style="italic" >-293</text>
<text x="811.0" y="294.5" font-size="10" fill="#ff00ff" text-anchor="middle" font-weight="bold" font-style="italic" >C</text>
<text x="811.0" y="310.0" font-size="10" fill="#ff00ff" text-anchor="middle" font-weight="bold" font-style="italic" >1726</text>
<text x="415.3" y="495.0" font-size="10" fill="#2020ff" text-anchor="middle" font-weight="bold" font-style="italic" >-677</text>
<clipPath id="cA"><rect x="400" y="495" width="30" height="13"/></clipPath>
<text x="415.3" y="511.0" font-size="10" fill="#ff00ff" text-anchor="middle" font-weight="bold" font-style="italic" clip-path="url(#cA)">A</text>
<text x="175.2" y="371.0" font-size="10" fill="#2020ff" text-anchor="middle" font-weight="bold" font-style="italic" >-414</text>
<text x="870.0" y="29.0" font-size="8.3" fill="#111" text-anchor="middle" font-weight="bold" font-style="italic" >2198</text>
<text x="870.5" y="38.8" font-size="8.3" fill="#111" text-anchor="middle" font-weight="bold" font-style="italic" >161.1 %</text>
<text x="870.5" y="48.8" font-size="8.3" fill="#111" text-anchor="middle" font-weight="bold" font-style="italic" >472 ?D</text>
<line x1="870.5" x2="870.5" y1="0" y2="508" stroke="#9ff" stroke-width="1" opacity="0.7"/>
<line x1="870.5" x2="870.5" y1="0" y2="508" stroke="#ff2020" stroke-width="1" stroke-dasharray="2 1.2"/>
<line x1="870.5" x2="870.5" y1="512" y2="634" stroke="#ff2020" stroke-width="1" stroke-dasharray="2 1.2"/>
<rect x="886" y="129.7" width="29" height="9.1" fill="#ffff00" stroke="#333" stroke-width="1"/>
<clipPath id="f129"><rect x="886" y="129.7" width="29" height="9.1"/></clipPath>
<text x="886.8" y="137.3" font-size="8.4" fill="#000" text-anchor="start" font-weight="bold" font-style="normal" clip-path="url(#f129)">382:2014</text>
<rect x="886" y="156.2" width="29" height="9.3" fill="#ff0000" stroke="#333" stroke-width="1"/>
<clipPath id="f156"><rect x="886" y="156.2" width="29" height="9.3"/></clipPath>
<text x="886.8" y="163.9" font-size="8.4" fill="#100" text-anchor="start" font-weight="bold" font-style="normal" clip-path="url(#f156)">500:1969</text>
<rect x="886" y="181.6" width="29" height="9.6" fill="#00ffff" stroke="#333" stroke-width="1"/>
<clipPath id="f181"><rect x="886" y="181.6" width="29" height="9.6"/></clipPath>
<text x="886.8" y="189.5" font-size="8.4" fill="#000" text-anchor="start" font-weight="bold" font-style="normal" clip-path="url(#f181)">618:1906</text>
<rect x="886" y="212.0" width="29" height="9.0" fill="#ffff00" stroke="#333" stroke-width="1"/>
<clipPath id="f212"><rect x="886" y="212.0" width="29" height="9.0"/></clipPath>
<text x="886.8" y="219.6" font-size="8.4" fill="#000" text-anchor="start" font-weight="bold" font-style="normal" clip-path="url(#f212)">382:1846</text>
<rect x="886" y="263.0" width="29" height="9.5" fill="#ff0000" stroke="#333" stroke-width="1"/>
<clipPath id="f263"><rect x="886" y="263.0" width="29" height="9.5"/></clipPath>
<text x="886.8" y="270.9" font-size="8.4" fill="#100" text-anchor="start" font-weight="bold" font-style="normal" clip-path="url(#f263)">500:1730</text>
<rect x="886" y="315.5" width="29" height="9.5" fill="#00ffff" stroke="#333" stroke-width="1"/>
<clipPath id="f315"><rect x="886" y="315.5" width="29" height="9.5"/></clipPath>
<text x="886.8" y="323.4" font-size="8.4" fill="#000" text-anchor="start" font-weight="bold" font-style="normal" clip-path="url(#f315)">618:1615</text>
<rect x="7.5" y="36.5" width="110.5" height="107" fill="#000"/>
<path d="M7.5 143.5V36.5H118" fill="none" stroke="#f4e4e0" stroke-width="1"/>
<path d="M7.5 143.5H118V36.5" fill="none" stroke="#a8a498" stroke-width="1.4"/>
<rect x="8.5" y="38" width="108.5" height="8.6" fill="#00ff00"/>
<text x="62.5" y="45.3" font-size="8.5" fill="#030" text-anchor="middle" font-weight="bold" font-style="normal" >OK</text>
<rect x="8.5" y="114" width="108.5" height="10.2" fill="#4b0082"/>
<rect x="8.5" y="124.2" width="108.5" height="9.3" fill="#0000ff"/>
<rect x="8.5" y="133.5" width="108.5" height="9.5" fill="#ff0000"/>
<text x="50.8" y="55.3" font-size="8" fill="#fff" text-anchor="end" font-weight="bold" font-style="normal" >Symbol:</text>
<text x="53.5" y="55.3" font-size="8" fill="#fff" text-anchor="start" font-weight="bold" font-style="normal" >W20 U9-WSF,D</text>
<text x="50.8" y="64.9" font-size="8" fill="#fff" text-anchor="end" font-weight="bold" font-style="normal" >BarCount:</text>
<text x="53.5" y="64.9" font-size="8" fill="#fff" text-anchor="start" font-weight="bold" font-style="normal" >203</text>
<text x="50.8" y="74.5" font-size="8" fill="#fff" text-anchor="end" font-weight="bold" font-style="normal" >Date:</text>
<text x="53.5" y="74.5" font-size="8" fill="#fff" text-anchor="start" font-weight="bold" font-style="normal" >08/03/09</text>
<text x="50.8" y="84.1" font-size="8" fill="#fff" text-anchor="end" font-weight="bold" font-style="normal" >Time:</text>
<text x="53.5" y="84.1" font-size="8" fill="#fff" text-anchor="start" font-weight="bold" font-style="normal" >00:00</text>
<text x="50.8" y="93.7" font-size="8" fill="#fff" text-anchor="end" font-weight="bold" font-style="normal" >Price:</text>
<text x="53.5" y="93.7" font-size="8" fill="#fff" text-anchor="start" font-weight="bold" font-style="normal" >2010.78616</text>
<text x="50.8" y="103.3" font-size="8" fill="#fff" text-anchor="end" font-weight="bold" font-style="normal" >Csr#:</text>
<text x="53.5" y="103.3" font-size="8" fill="#fff" text-anchor="start" font-weight="bold" font-style="normal" >146</text>
<text x="50.8" y="112.9" font-size="8" fill="#fff" text-anchor="end" font-weight="bold" font-style="normal" >Csr%:</text>
<text x="53.5" y="112.9" font-size="8" fill="#fff" text-anchor="start" font-weight="bold" font-style="normal" >-4.123</text>
<text x="50.8" y="122.5" font-size="8" fill="#fff" text-anchor="end" font-weight="bold" font-style="normal" >MA(13,C)s</text>
<text x="53.5" y="122.5" font-size="8" fill="#fff" text-anchor="start" font-weight="bold" font-style="normal" >2051.84615</text>
<text x="50.8" y="132.1" font-size="8" fill="#fff" text-anchor="end" font-weight="bold" font-style="normal" >%K(10,2)</text>
<text x="53.5" y="132.1" font-size="8" fill="#fff" text-anchor="start" font-weight="bold" font-style="normal" >84.56</text>
<text x="50.8" y="141.7" font-size="8" fill="#fff" text-anchor="end" font-weight="bold" font-style="normal" >%D(4)</text>
<text x="53.5" y="141.7" font-size="8" fill="#fff" text-anchor="start" font-weight="bold" font-style="normal" >80.81</text>
<text x="1.0" y="10.3" font-size="10.4" fill="#000" text-anchor="start" font-weight="bold" font-style="normal" textLength="306.0" lengthAdjust="spacingAndGlyphs" >(W20 U9-WSF - WIG20 INDEX FUTURES,D) Dynamic,0:00-24:00</text>
<text x="1.0" y="22.6" font-size="10.4" fill="#000" text-anchor="start" font-weight="bold" font-style="normal" textLength="85.0" lengthAdjust="spacingAndGlyphs" >WaveTrader III ©</text>
<rect x="915.5" y="0" width="57" height="650" fill="#fff"/>
<rect x="0" y="507.5" width="915" height="3" fill="#d8d4c8"/>
<line x1="0" x2="915" y1="509.8" y2="509.8" stroke="#6a675e" stroke-width="1"/>
<line x1="0" x2="915" y1="507.6" y2="507.6" stroke="#f4f2ea" stroke-width="1"/>
<line x1="2" x2="908" y1="542.7" y2="542.7" stroke="#444" stroke-width="1" stroke-dasharray="1 3"/>
<line x1="2" x2="908" y1="573.3" y2="573.3" stroke="#444" stroke-width="1" stroke-dasharray="1 3"/>
<line x1="2" x2="908" y1="604.8" y2="604.8" stroke="#444" stroke-width="1" stroke-dasharray="1 3"/>
<line x1="0" x2="914" y1="536.8" y2="536.8" stroke="#333" stroke-width="1.3"/>
<line x1="0" x2="914" y1="611.3" y2="611.3" stroke="#333" stroke-width="1.3"/>
<polyline points="103.4,624.0 106.5,628.5 114.7,612.0 120.9,573.0 126.6,534.8 131.0,529.7 134.9,527.2 139.0,537.0 146.6,552.0 150.0,577.0 154.8,601.7 158.5,621.0 162.0,621.0 167.0,624.0 171.3,628.0 174.4,628.5 178.5,626.4 181.6,603.8 185.7,566.7 188.8,538.0 190.8,529.3 195.0,531.3 198.6,535.9 202.0,549.0 206.3,555.4 210.4,562.6 214.5,554.4 218.6,556.0 222.7,538.0 226.8,527.6 231.0,524.0 235.0,526.6 238.6,541.6 242.7,548.6 246.4,547.0 250.5,554.4 254.6,564.7 258.7,591.4 262.8,613.0 267.0,622.0 270.0,623.0 274.0,608.0 278.3,597.6 282.5,589.4 286.2,566.7 290.3,540.0 294.4,523.5 298.5,533.8 302.2,558.5 306.3,591.4 310.5,612.0 314.6,622.3 319.0,624.8 323.2,626.8 327.7,626.8 331.4,624.3 334.5,615.7 338.6,613.0 342.8,616.5 346.9,601.7 351.0,581.0 354.5,554.4 358.8,564.7 362.3,564.7 366.4,583.0 370.5,607.9 374.6,623.3 378.8,626.0 382.5,612.0 386.6,587.3 390.7,565.7 394.4,561.6 398.3,579.0 402.4,599.7 406.5,622.3 410.7,625.4 414.8,629.0 418.9,620.0 422.0,603.8 426.0,596.6 430.2,590.4 434.3,594.5 438.4,576.0 442.6,564.7 446.3,550.7 449.8,552.3 453.9,542.0 458.0,528.7 462.0,517.3 466.8,527.2 470.3,525.6 474.0,528.7 478.2,527.2 482.3,540.0 486.5,549.2 490.6,562.6 494.7,583.2 498.8,591.0 502.5,586.3 506.6,553.4 510.7,540.0 514.9,524.0 519.0,529.3 522.7,533.8 526.6,560.6 530.7,583.2 534.4,594.5 539.0,568.8 543.0,542.0 546.5,525.6 550.7,533.8 554.4,531.3 558.5,524.0 563.0,517.3 566.7,519.4 570.8,533.8 575.0,555.4 579.0,587.3 582.8,611.0 586.5,611.0 590.4,595.5 594.5,570.8 598.6,564.3 602.7,568.4 606.8,564.7 611.0,544.0 615.0,520.0 619.2,522.5 623.3,529.7 626.8,542.0 631.0,545.0 635.0,552.0 638.7,554.4 642.8,575.0 647.0,595.5 650.7,611.6 654.6,595.5 658.7,568.8 662.5,552.0 666.6,560.6 670.3,587.3 674.4,615.0 678.5,612.0 682.2,596.6 686.7,593.5 690.9,594.5 695.0,570.8 699.0,542.0 702.6,524.0 706.9,526.6 711.0,532.8 715.0,543.0 718.6,552.3 722.8,549.2 726.3,530.7 730.4,532.8 734.5,544.0 738.6,573.0 742.7,586.3 746.4,592.4 750.5,601.7 754.7,612.0 758.8,620.2 762.9,612.0 767.0,605.8 771.0,600.7 774.8,598.6 778.7,589.8 782.8,598.6 787.0,603.8 791.0,615.0 795.2,616.7 799.3,615.7 803.0,611.0 807.0,611.0 810.8,603.8 814.7,573.0 818.8,535.9 822.5,517.0 826.7,519.8 830.4,522.5 835.0,519.5 839.0,521.0 843.0,520.2 847.2,523.5 851.2,528.5 854.6,543.0 858.5,554.5 862.5,545.8 866.6,536.6 870.7,528.5" fill="none" stroke="#1818ff" stroke-width="1.05" stroke-linejoin="round"/>
<polyline points="118.8,613.0 124.0,595.5 129.0,573.0 134.2,550.0 139.0,538.0 143.0,535.5 147.6,540.0 151.7,552.0 156.9,573.0 162.0,593.5 167.2,611.0 172.3,620.0 178.0,624.8 182.6,618.0 186.7,603.8 190.8,583.0 195.0,562.6 199.0,546.0 202.8,541.6 206.3,540.4 210.4,547.0 214.5,552.0 219.2,555.4 223.7,552.0 228.9,544.0 234.0,534.8 238.6,531.3 243.3,533.4 248.4,539.0 253.6,549.0 258.7,562.6 263.9,581.0 269.0,598.6 274.0,610.0 278.3,612.4 282.0,609.5 284.0,601.7 288.2,585.2 292.3,568.8 296.9,553.4 301.6,544.7 305.7,549.2 310.5,564.7 314.6,585.2 319.0,603.8 323.2,617.0 327.7,624.0 331.4,624.8 336.6,622.3 341.7,619.8 345.8,615.7 351.0,601.7 356.0,589.4 361.3,577.0 366.0,570.4 369.5,575.0 373.6,587.3 378.4,601.7 382.5,610.3 386.0,611.6 390.0,603.8 394.2,591.4 398.3,582.8 402.4,580.7 406.5,587.3 411.7,601.7 415.8,614.0 419.9,620.2 424.0,619.2 429.2,612.0 434.3,601.7 439.5,591.4 444.6,581.0 449.8,568.8 454.9,554.4 460.0,541.0 464.2,533.8 469.3,528.0 474.0,525.6 478.2,524.5 482.3,528.7 487.5,535.9 492.6,548.2 497.8,563.6 503.0,574.5 506.0,575.4 510.0,570.8 514.2,560.6 519.0,545.0 523.0,536.3 527.6,541.0 531.7,552.3 535.8,564.7 541.0,570.4 545.0,565.7 549.2,556.4 553.3,544.0 557.4,532.8 561.6,526.6 565.7,524.5 569.8,524.0 573.9,527.6 577.0,533.8 580.0,548.2 583.2,564.7 587.3,583.2 591.4,593.5 594.5,595.5 598.6,591.4 602.7,583.2 606.8,573.0 611.0,562.6 615.0,550.3 620.2,539.0 625.3,532.8 630.5,531.3 634.6,536.9 639.8,545.0 644.9,558.5 650.0,575.0 654.2,586.3 657.7,590.4 661.4,586.3 665.0,580.0 670.3,575.0 674.4,578.0 679.5,589.4 684.7,598.6 689.8,602.0 694.0,595.5 698.0,581.0 702.2,566.7 706.3,553.4 711.0,540.0 715.0,534.8 719.3,537.0 722.8,540.4 726.9,541.6 733.0,541.6 737.8,546.0 742.3,553.4 746.4,564.7 750.5,579.0 754.7,593.5 758.8,603.8 762.9,609.0 767.0,611.0 771.0,611.0 775.2,606.9 779.3,601.7 783.5,599.2 787.6,598.6 791.7,600.7 795.8,604.8 799.9,610.0 804.0,613.0 807.0,614.0 811.2,611.0 815.3,599.7 819.5,583.2 823.6,564.7 827.7,546.0 831.8,531.7 835.9,524.0 841.0,520.4 846.2,521.0 850.5,522.5 854.4,527.5 858.5,533.6 862.5,538.7 866.6,541.7 870.7,541.7" fill="none" stroke="#ff1010" stroke-width="1.05" stroke-linejoin="round"/>
<text x="1.5" y="522.0" font-size="10.4" fill="#1010ff" text-anchor="start" font-weight="bold" font-style="normal" textLength="83.5" lengthAdjust="spacingAndGlyphs" >Stochastic(8(3),5)</text>
<rect x="0" y="634" width="915" height="15" fill="#ece9d8"/>
<line x1="0" x2="915" y1="634.6" y2="634.6" stroke="#77746a" stroke-width="1.4"/>
<rect x="0" y="649" width="972" height="25" fill="#fff"/>
<line x1="915.3" x2="915.3" y1="0" y2="649" stroke="#000" stroke-width="1.25"/>
<text x="916.6" y="470.6" font-size="10.6" fill="#000" text-anchor="start" font-weight="bold" font-style="normal" textLength="36.0" lengthAdjust="spacingAndGlyphs" >1300.00</text>
<text x="916.6" y="424.3" font-size="10.6" fill="#000" text-anchor="start" font-weight="bold" font-style="normal" textLength="36.0" lengthAdjust="spacingAndGlyphs" >1400.00</text>
<text x="916.6" y="378.1" font-size="10.6" fill="#000" text-anchor="start" font-weight="bold" font-style="normal" textLength="36.0" lengthAdjust="spacingAndGlyphs" >1500.00</text>
<text x="916.6" y="331.8" font-size="10.6" fill="#000" text-anchor="start" font-weight="bold" font-style="normal" textLength="36.0" lengthAdjust="spacingAndGlyphs" >1600.00</text>
<text x="916.6" y="285.6" font-size="10.6" fill="#000" text-anchor="start" font-weight="bold" font-style="normal" textLength="36.0" lengthAdjust="spacingAndGlyphs" >1700.00</text>
<text x="916.6" y="239.3" font-size="10.6" fill="#000" text-anchor="start" font-weight="bold" font-style="normal" textLength="36.0" lengthAdjust="spacingAndGlyphs" >1800.00</text>
<text x="916.6" y="193.1" font-size="10.6" fill="#000" text-anchor="start" font-weight="bold" font-style="normal" textLength="36.0" lengthAdjust="spacingAndGlyphs" >1900.00</text>
<text x="916.6" y="146.8" font-size="10.6" fill="#000" text-anchor="start" font-weight="bold" font-style="normal" textLength="36.0" lengthAdjust="spacingAndGlyphs" >2000.00</text>
<text x="916.6" y="100.5" font-size="10.6" fill="#000" text-anchor="start" font-weight="bold" font-style="normal" textLength="36.0" lengthAdjust="spacingAndGlyphs" >2100.00</text>
<text x="916.6" y="54.3" font-size="10.6" fill="#000" text-anchor="start" font-weight="bold" font-style="normal" textLength="36.0" lengthAdjust="spacingAndGlyphs" >2200.00</text>
<text x="916.6" y="10.2" font-size="10.6" fill="#000" text-anchor="start" font-weight="bold" font-style="normal" textLength="36.0" lengthAdjust="spacingAndGlyphs" >2300.00</text>
<rect x="916" y="59.0" width="37.0" height="13.0" fill="#00ff00"/>
<text x="916.6" y="69.3" font-size="10.6" fill="#fff" text-anchor="start" font-weight="bold" font-style="normal" textLength="36.0" lengthAdjust="spacingAndGlyphs" >2167.00</text>
<rect x="916" y="92.0" width="53.5" height="12.5" fill="#008000"/>
<text x="916.6" y="102.0" font-size="10.6" fill="#fff" text-anchor="start" font-weight="bold" font-style="normal" textLength="52.5" lengthAdjust="spacingAndGlyphs" >2095.80599</text>
<rect x="916" y="113.0" width="53.5" height="12.0" fill="#4b0082"/>
<text x="916.6" y="122.8" font-size="10.6" fill="#fff" text-anchor="start" font-weight="bold" font-style="normal" textLength="52.5" lengthAdjust="spacingAndGlyphs" >2051.84615</text>
<rect x="916" y="174.5" width="53.5" height="12.5" fill="#ff0000"/>
<text x="916.6" y="184.6" font-size="10.6" fill="#fff" text-anchor="start" font-weight="bold" font-style="normal" textLength="52.5" lengthAdjust="spacingAndGlyphs" >1918.51196</text>
<text x="916.6" y="522.0" font-size="10.6" fill="#000" text-anchor="start" font-weight="bold" font-style="normal" textLength="16.5" lengthAdjust="spacingAndGlyphs" >100</text>
<rect x="916" y="521.4" width="26.5" height="12.2" fill="#1010ff"/>
<text x="916.6" y="531.3" font-size="10.6" fill="#fff" text-anchor="start" font-weight="bold" font-style="normal" textLength="25.5" lengthAdjust="spacingAndGlyphs" >86.71</text>
<rect x="916" y="535.6" width="26.5" height="12.2" fill="#ff0000"/>
<text x="916.6" y="545.5" font-size="10.6" fill="#fff" text-anchor="start" font-weight="bold" font-style="normal" textLength="25.5" lengthAdjust="spacingAndGlyphs" >75.65</text>
<text x="916.6" y="577.2" font-size="10.6" fill="#000" text-anchor="start" font-weight="bold" font-style="normal" textLength="11.0" lengthAdjust="spacingAndGlyphs" >50</text>
<text x="916.6" y="608.6" font-size="10.6" fill="#000" text-anchor="start" font-weight="bold" font-style="normal" textLength="11.0" lengthAdjust="spacingAndGlyphs" >25</text>
<text x="916.6" y="633.0" font-size="10.6" fill="#000" text-anchor="start" font-weight="bold" font-style="normal" textLength="5.5" lengthAdjust="spacingAndGlyphs" >0</text>
<g id="tabs">
<rect x="2.0" y="636.5" width="11" height="11.5" fill="#d6d3ce" stroke="#85837c" stroke-width="1"/>
<path d="M2.8 636.5V647.5M2.5 636.5H12.5" stroke="#fff" stroke-width="1" fill="none"/>
<rect x="13.5" y="636.5" width="11" height="11.5" fill="#d6d3ce" stroke="#85837c" stroke-width="1"/>
<path d="M14.3 636.5V647.5M14.0 636.5H24.0" stroke="#fff" stroke-width="1" fill="none"/>
<path d="M9.5 638.5V645.5L5.5 642Z" fill="#000"/><path d="M17.5 638.5V645.5L21.5 642Z" fill="#000"/>
<path d="M27.6 636L32.6 647.6H73.0L77.5 636Z" fill="#ece9d8"/>
<path d="M27.6 636L32.6 647.6H73.0L77.5 636" fill="none" stroke="#222" stroke-width="1" stroke-linejoin="miter"/>
<text x="35.5" y="645.2" font-size="9.5" fill="#223" text-anchor="start" font-weight="normal" font-style="normal" textLength="36.2" lengthAdjust="spacingAndGlyphs" >RSI(14,C)</text>
<path d="M72.5 636L77.5 647.6H156.0L160.5 636Z" fill="#ece9d8"/>
<path d="M72.5 636L77.5 647.6H156.0L160.5 636" fill="none" stroke="#222" stroke-width="1" stroke-linejoin="miter"/>
<text x="80.4" y="645.2" font-size="9.5" fill="#223" text-anchor="start" font-weight="normal" font-style="normal" textLength="74.3" lengthAdjust="spacingAndGlyphs" >Stochastic(14(1),3)</text>
<path d="M155.6 636L160.6 647.6H231.5L236.0 636Z" fill="#ece9d8"/>
<path d="M155.6 636L160.6 647.6H231.5L236.0 636" fill="none" stroke="#222" stroke-width="1" stroke-linejoin="miter"/>
<text x="163.0" y="645.2" font-size="9.5" fill="#223" text-anchor="start" font-weight="normal" font-style="normal" textLength="67.0" lengthAdjust="spacingAndGlyphs" >MACD(12,26,9,C)</text>
<path d="M231.0 636L236.0 647.6H268.5L273.0 636Z" fill="#ece9d8"/>
<path d="M231.0 636L236.0 647.6H268.5L273.0 636" fill="none" stroke="#222" stroke-width="1" stroke-linejoin="miter"/>
<text x="239.0" y="645.2" font-size="9.5" fill="#223" text-anchor="start" font-weight="normal" font-style="normal" textLength="28.0" lengthAdjust="spacingAndGlyphs" >Volume</text>
<path d="M268.0 636L273.0 647.6H313.0L317.5 636Z" fill="#ece9d8"/>
<path d="M268.0 636L273.0 647.6H313.0L317.5 636" fill="none" stroke="#222" stroke-width="1" stroke-linejoin="miter"/>
<text x="275.5" y="645.2" font-size="9.5" fill="#223" text-anchor="start" font-weight="normal" font-style="normal" textLength="36.5" lengthAdjust="spacingAndGlyphs" >RSI(14,C)</text>
<path d="M390.0 636H481.5L477.0 647.6H390.0Z" fill="#ece9d8"/>
<path d="M390.0 636H481.5L477.0 647.6H390.0" fill="none" stroke="#222" stroke-width="1" stroke-linejoin="miter"/>
<text x="398.0" y="645.2" font-size="9.5" fill="#223" text-anchor="start" font-weight="normal" font-style="normal" textLength="75.3" lengthAdjust="spacingAndGlyphs" >Stochastic(10(2),4)</text>
<path d="M312.0 636L317.0 647.6H394.0L398.5 636Z" fill="#fff"/>
<path d="M312.0 636L317.0 647.6H394.0L398.5 636" fill="none" stroke="#222" stroke-width="1" stroke-linejoin="miter"/>
<text x="320.0" y="645.2" font-size="9.5" fill="#223" text-anchor="start" font-weight="normal" font-style="normal" textLength="70.4" lengthAdjust="spacingAndGlyphs" >Stochastic(8(3),5)</text>
<line x1="0" x2="915" y1="635.3" y2="635.3" stroke="#6f6c62" stroke-width="1.6"/>
<line x1="313" x2="397.5" y1="635.6" y2="635.6" stroke="#fff" stroke-width="1.2"/>
</g>
<rect x="70.0" y="649" width="1" height="1.2" fill="#555"/>
<text x="70.5" y="660.0" font-size="10.6" fill="#000" text-anchor="start" font-weight="bold" font-style="normal" textLength="10.6" lengthAdjust="spacingAndGlyphs" >13</text>
<rect x="90.0" y="649" width="1" height="1.2" fill="#555"/>
<text x="90.5" y="660.0" font-size="10.6" fill="#000" text-anchor="start" font-weight="bold" font-style="normal" textLength="10.6" lengthAdjust="spacingAndGlyphs" >20</text>
<rect x="110.0" y="649" width="1" height="1.2" fill="#555"/>
<text x="110.5" y="660.0" font-size="10.6" fill="#000" text-anchor="start" font-weight="bold" font-style="normal" textLength="10.6" lengthAdjust="spacingAndGlyphs" >27</text>
<rect x="130.0" y="649" width="1" height="1.2" fill="#555"/>
<text x="130.5" y="660.0" font-size="10.6" fill="#000" text-anchor="start" font-weight="bold" font-style="normal" textLength="5.3" lengthAdjust="spacingAndGlyphs" >3</text>
<rect x="146.0" y="649" width="1" height="1.2" fill="#555"/>
<text x="146.5" y="660.0" font-size="10.6" fill="#000" text-anchor="start" font-weight="bold" font-style="normal" textLength="10.6" lengthAdjust="spacingAndGlyphs" >10</text>
<rect x="162.0" y="649" width="1" height="1.2" fill="#555"/>
<text x="162.5" y="660.0" font-size="10.6" fill="#000" text-anchor="start" font-weight="bold" font-style="normal" textLength="10.6" lengthAdjust="spacingAndGlyphs" >17</text>
<rect x="182.0" y="649" width="1" height="1.2" fill="#555"/>
<text x="182.5" y="660.0" font-size="10.6" fill="#000" text-anchor="start" font-weight="bold" font-style="normal" textLength="10.6" lengthAdjust="spacingAndGlyphs" >24</text>
<rect x="202.0" y="649" width="1" height="1.2" fill="#555"/>
<text x="202.5" y="660.0" font-size="10.6" fill="#000" text-anchor="start" font-weight="bold" font-style="normal" textLength="5.3" lengthAdjust="spacingAndGlyphs" >1</text>
<rect x="222.0" y="649" width="1" height="1.2" fill="#555"/>
<text x="222.5" y="660.0" font-size="10.6" fill="#000" text-anchor="start" font-weight="bold" font-style="normal" textLength="5.3" lengthAdjust="spacingAndGlyphs" >8</text>
<rect x="242.0" y="649" width="1" height="1.2" fill="#555"/>
<text x="242.5" y="660.0" font-size="10.6" fill="#000" text-anchor="start" font-weight="bold" font-style="normal" textLength="10.6" lengthAdjust="spacingAndGlyphs" >15</text>
<rect x="270.0" y="649" width="1" height="1.2" fill="#555"/>
<text x="270.5" y="660.0" font-size="10.6" fill="#000" text-anchor="start" font-weight="bold" font-style="normal" textLength="10.6" lengthAdjust="spacingAndGlyphs" >29</text>
<rect x="286.0" y="649" width="1" height="1.2" fill="#555"/>
<text x="286.5" y="660.0" font-size="10.6" fill="#000" text-anchor="start" font-weight="bold" font-style="normal" textLength="5.3" lengthAdjust="spacingAndGlyphs" >5</text>
<rect x="306.0" y="649" width="1" height="1.2" fill="#555"/>
<text x="306.5" y="660.0" font-size="10.6" fill="#000" text-anchor="start" font-weight="bold" font-style="normal" textLength="10.6" lengthAdjust="spacingAndGlyphs" >12</text>
<rect x="326.0" y="649" width="1" height="1.2" fill="#555"/>
<text x="326.5" y="660.0" font-size="10.6" fill="#000" text-anchor="start" font-weight="bold" font-style="normal" textLength="10.6" lengthAdjust="spacingAndGlyphs" >19</text>
<rect x="346.0" y="649" width="1" height="1.2" fill="#555"/>
<text x="346.5" y="660.0" font-size="10.6" fill="#000" text-anchor="start" font-weight="bold" font-style="normal" textLength="10.6" lengthAdjust="spacingAndGlyphs" >26</text>
<rect x="366.0" y="649" width="1" height="1.2" fill="#555"/>
<text x="366.5" y="660.0" font-size="10.6" fill="#000" text-anchor="start" font-weight="bold" font-style="normal" textLength="5.3" lengthAdjust="spacingAndGlyphs" >2</text>
<rect x="386.0" y="649" width="1" height="1.2" fill="#555"/>
<text x="386.5" y="660.0" font-size="10.6" fill="#000" text-anchor="start" font-weight="bold" font-style="normal" textLength="5.3" lengthAdjust="spacingAndGlyphs" >9</text>
<rect x="406.0" y="649" width="1" height="1.2" fill="#555"/>
<text x="406.5" y="660.0" font-size="10.6" fill="#000" text-anchor="start" font-weight="bold" font-style="normal" textLength="10.6" lengthAdjust="spacingAndGlyphs" >16</text>
<rect x="426.0" y="649" width="1" height="1.2" fill="#555"/>
<text x="426.5" y="660.0" font-size="10.6" fill="#000" text-anchor="start" font-weight="bold" font-style="normal" textLength="10.6" lengthAdjust="spacingAndGlyphs" >23</text>
<rect x="446.0" y="649" width="1" height="1.2" fill="#555"/>
<text x="446.5" y="660.0" font-size="10.6" fill="#000" text-anchor="start" font-weight="bold" font-style="normal" textLength="5.3" lengthAdjust="spacingAndGlyphs" >2</text>
<rect x="466.0" y="649" width="1" height="1.2" fill="#555"/>
<text x="466.5" y="660.0" font-size="10.6" fill="#000" text-anchor="start" font-weight="bold" font-style="normal" textLength="5.3" lengthAdjust="spacingAndGlyphs" >9</text>
<rect x="486.0" y="649" width="1" height="1.2" fill="#555"/>
<text x="486.5" y="660.0" font-size="10.6" fill="#000" text-anchor="start" font-weight="bold" font-style="normal" textLength="10.6" lengthAdjust="spacingAndGlyphs" >16</text>
<rect x="506.0" y="649" width="1" height="1.2" fill="#555"/>
<text x="506.5" y="660.0" font-size="10.6" fill="#000" text-anchor="start" font-weight="bold" font-style="normal" textLength="10.6" lengthAdjust="spacingAndGlyphs" >23</text>
<rect x="526.0" y="649" width="1" height="1.2" fill="#555"/>
<text x="526.5" y="660.0" font-size="10.6" fill="#000" text-anchor="start" font-weight="bold" font-style="normal" textLength="10.6" lengthAdjust="spacingAndGlyphs" >30</text>
<rect x="546.0" y="649" width="1" height="1.2" fill="#555"/>
<text x="546.5" y="660.0" font-size="10.6" fill="#000" text-anchor="start" font-weight="bold" font-style="normal" textLength="5.3" lengthAdjust="spacingAndGlyphs" >6</text>
<rect x="562.0" y="649" width="1" height="1.2" fill="#555"/>
<text x="562.5" y="660.0" font-size="10.6" fill="#000" text-anchor="start" font-weight="bold" font-style="normal" textLength="10.6" lengthAdjust="spacingAndGlyphs" >14</text>
<rect x="578.0" y="649" width="1" height="1.2" fill="#555"/>
<text x="578.5" y="660.0" font-size="10.6" fill="#000" text-anchor="start" font-weight="bold" font-style="normal" textLength="10.6" lengthAdjust="spacingAndGlyphs" >20</text>
<rect x="598.0" y="649" width="1" height="1.2" fill="#555"/>
<text x="598.5" y="660.0" font-size="10.6" fill="#000" text-anchor="start" font-weight="bold" font-style="normal" textLength="10.6" lengthAdjust="spacingAndGlyphs" >27</text>
<rect x="614.0" y="649" width="1" height="1.2" fill="#555"/>
<text x="614.5" y="660.0" font-size="10.6" fill="#000" text-anchor="start" font-weight="bold" font-style="normal" textLength="5.3" lengthAdjust="spacingAndGlyphs" >4</text>
<rect x="634.0" y="649" width="1" height="1.2" fill="#555"/>
<text x="634.5" y="660.0" font-size="10.6" fill="#000" text-anchor="start" font-weight="bold" font-style="normal" textLength="10.6" lengthAdjust="spacingAndGlyphs" >11</text>
<rect x="654.0" y="649" width="1" height="1.2" fill="#555"/>
<text x="654.5" y="660.0" font-size="10.6" fill="#000" text-anchor="start" font-weight="bold" font-style="normal" textLength="10.6" lengthAdjust="spacingAndGlyphs" >18</text>
<rect x="674.0" y="649" width="1" height="1.2" fill="#555"/>
<text x="674.5" y="660.0" font-size="10.6" fill="#000" text-anchor="start" font-weight="bold" font-style="normal" textLength="10.6" lengthAdjust="spacingAndGlyphs" >25</text>
<rect x="694.0" y="649" width="1" height="1.2" fill="#555"/>
<text x="694.5" y="660.0" font-size="10.6" fill="#000" text-anchor="start" font-weight="bold" font-style="normal" textLength="5.3" lengthAdjust="spacingAndGlyphs" >1</text>
<rect x="714.0" y="649" width="1" height="1.2" fill="#555"/>
<text x="714.5" y="660.0" font-size="10.6" fill="#000" text-anchor="start" font-weight="bold" font-style="normal" textLength="5.3" lengthAdjust="spacingAndGlyphs" >8</text>
<rect x="730.0" y="649" width="1" height="1.2" fill="#555"/>
<text x="730.5" y="660.0" font-size="10.6" fill="#000" text-anchor="start" font-weight="bold" font-style="normal" textLength="10.6" lengthAdjust="spacingAndGlyphs" >15</text>
<rect x="750.0" y="649" width="1" height="1.2" fill="#555"/>
<text x="750.5" y="660.0" font-size="10.6" fill="#000" text-anchor="start" font-weight="bold" font-style="normal" textLength="10.6" lengthAdjust="spacingAndGlyphs" >22</text>
<rect x="770.0" y="649" width="1" height="1.2" fill="#555"/>
<text x="770.5" y="660.0" font-size="10.6" fill="#000" text-anchor="start" font-weight="bold" font-style="normal" textLength="10.6" lengthAdjust="spacingAndGlyphs" >29</text>
<rect x="790.0" y="649" width="1" height="1.2" fill="#555"/>
<text x="790.5" y="660.0" font-size="10.6" fill="#000" text-anchor="start" font-weight="bold" font-style="normal" textLength="5.3" lengthAdjust="spacingAndGlyphs" >6</text>
<rect x="810.0" y="649" width="1" height="1.2" fill="#555"/>
<text x="810.5" y="660.0" font-size="10.6" fill="#000" text-anchor="start" font-weight="bold" font-style="normal" textLength="10.6" lengthAdjust="spacingAndGlyphs" >13</text>
<rect x="830.0" y="649" width="1" height="1.2" fill="#555"/>
<text x="830.5" y="660.0" font-size="10.6" fill="#000" text-anchor="start" font-weight="bold" font-style="normal" textLength="10.6" lengthAdjust="spacingAndGlyphs" >20</text>
<rect x="850.0" y="649" width="1" height="1.2" fill="#555"/>
<text x="850.5" y="660.0" font-size="10.6" fill="#000" text-anchor="start" font-weight="bold" font-style="normal" textLength="10.6" lengthAdjust="spacingAndGlyphs" >27</text>
<rect x="870.0" y="649" width="1" height="1.2" fill="#555"/>
<text x="870.5" y="660.0" font-size="10.6" fill="#000" text-anchor="start" font-weight="bold" font-style="normal" textLength="5.3" lengthAdjust="spacingAndGlyphs" >3</text>
<text x="130.5" y="672.6" font-size="10.6" fill="#000" text-anchor="start" font-weight="bold" font-style="normal" textLength="19.0" lengthAdjust="spacingAndGlyphs" >Nov</text>
<text x="202.5" y="672.6" font-size="10.6" fill="#000" text-anchor="start" font-weight="bold" font-style="normal" textLength="19.5" lengthAdjust="spacingAndGlyphs" >Dec</text>
<text x="282.5" y="672.6" font-size="10.6" fill="#000" text-anchor="start" font-weight="bold" font-style="normal" textLength="22.5" lengthAdjust="spacingAndGlyphs" >2009</text>
<text x="366.5" y="672.6" font-size="10.6" fill="#000" text-anchor="start" font-weight="bold" font-style="normal" textLength="18.5" lengthAdjust="spacingAndGlyphs" >Feb</text>
<text x="446.5" y="672.6" font-size="10.6" fill="#000" text-anchor="start" font-weight="bold" font-style="normal" textLength="19.0" lengthAdjust="spacingAndGlyphs" >Mar</text>
<text x="534.5" y="672.6" font-size="10.6" fill="#000" text-anchor="start" font-weight="bold" font-style="normal" textLength="18.0" lengthAdjust="spacingAndGlyphs" >Apr</text>
<text x="614.5" y="672.6" font-size="10.6" fill="#000" text-anchor="start" font-weight="bold" font-style="normal" textLength="20.5" lengthAdjust="spacingAndGlyphs" >May</text>
<text x="694.5" y="672.6" font-size="10.6" fill="#000" text-anchor="start" font-weight="bold" font-style="normal" textLength="18.0" lengthAdjust="spacingAndGlyphs" >Jun</text>
<text x="778.5" y="672.6" font-size="10.6" fill="#000" text-anchor="start" font-weight="bold" font-style="normal" textLength="13.0" lengthAdjust="spacingAndGlyphs" >Jul</text>
<text x="870.5" y="672.6" font-size="10.6" fill="#000" text-anchor="start" font-weight="bold" font-style="normal" textLength="19.0" lengthAdjust="spacingAndGlyphs" >Aug</text>
<rect x="0" y="674" width="972" height="14" fill="#ebebeb"/>
<line x1="0" x2="972" y1="673.8" y2="673.8" stroke="#000" stroke-width="1.2"/>
<text x="797.5" y="684.3" font-size="10.5" fill="#111" text-anchor="start" font-weight="normal" font-style="normal" textLength="170.0" lengthAdjust="spacingAndGlyphs" >Published by eSignal (www.esignal.com)</text>
<rect x="0" y="0" width="1.5" height="674" fill="#c8c8c8"/>
<rect x="0" y="0" width="972" height="1" fill="#d8d8d8"/>
<rect x="970.5" y="0" width="1.5" height="674" fill="#ddd"/>
</svg></body></html>
